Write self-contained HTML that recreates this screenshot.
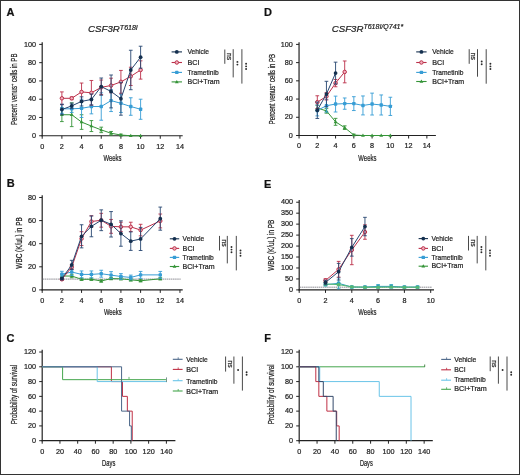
<!DOCTYPE html><html><head><meta charset="utf-8"><style>html,body{margin:0;padding:0;background:#fff;}svg{display:block;will-change:transform;}text{font-family:"Liberation Sans", sans-serif;stroke:#222;stroke-width:0.22px;}</style></head><body>
<svg width="520" height="475" viewBox="0 0 520 475" font-family='"Liberation Sans", sans-serif' fill="#222">
<rect x="0" y="0" width="520" height="475" fill="#fff"/>
<text x="6.6" y="16.3" font-size="11" font-weight="bold" fill="#111">A</text>
<text x="6.8" y="187.2" font-size="11" font-weight="bold" fill="#111">B</text>
<text x="6.6" y="342.3" font-size="11" font-weight="bold" fill="#111">C</text>
<text x="263.9" y="16.3" font-size="11" font-weight="bold" fill="#111">D</text>
<text x="264.1" y="187.5" font-size="11" font-weight="bold" fill="#111">E</text>
<text x="264.2" y="342.3" font-size="11" font-weight="bold" fill="#111">F</text>
<text x="88.1" y="32.2" font-size="9.7" font-style="italic">CSF3R<tspan font-size="7" dy="-2.3">T618I</tspan></text>
<text x="331.7" y="32.0" font-size="9.7" font-style="italic">CSF3R<tspan font-size="7" dy="-3.2">T618I/Q741*</tspan></text>
<line x1="42.2" y1="136.35" x2="42.2" y2="42.2" stroke="#222222" stroke-width="1.2"/>
<line x1="41.6" y1="135.75" x2="182.7" y2="135.75" stroke="#222222" stroke-width="1.2"/>
<line x1="39.2" y1="135.75" x2="42.2" y2="135.75" stroke="#222222" stroke-width="1"/>
<text transform="translate(36 137.95) scale(0.93 1)" font-size="7.8" text-anchor="end">0</text>
<line x1="39.2" y1="117.48" x2="42.2" y2="117.48" stroke="#222222" stroke-width="1"/>
<text transform="translate(36 119.68) scale(0.93 1)" font-size="7.8" text-anchor="end">20</text>
<line x1="39.2" y1="99.21" x2="42.2" y2="99.21" stroke="#222222" stroke-width="1"/>
<text transform="translate(36 101.41) scale(0.93 1)" font-size="7.8" text-anchor="end">40</text>
<line x1="39.2" y1="80.94" x2="42.2" y2="80.94" stroke="#222222" stroke-width="1"/>
<text transform="translate(36 83.14) scale(0.93 1)" font-size="7.8" text-anchor="end">60</text>
<line x1="39.2" y1="62.67" x2="42.2" y2="62.67" stroke="#222222" stroke-width="1"/>
<text transform="translate(36 64.87) scale(0.93 1)" font-size="7.8" text-anchor="end">80</text>
<line x1="39.2" y1="44.4" x2="42.2" y2="44.4" stroke="#222222" stroke-width="1"/>
<text transform="translate(36 46.6) scale(0.93 1)" font-size="7.8" text-anchor="end">100</text>
<line x1="42.2" y1="135.75" x2="42.2" y2="138.75" stroke="#222222" stroke-width="1"/>
<text transform="translate(42.2 148.65) scale(0.93 1)" font-size="7.8" text-anchor="middle">0</text>
<line x1="61.88" y1="135.75" x2="61.88" y2="138.75" stroke="#222222" stroke-width="1"/>
<text transform="translate(61.88 148.65) scale(0.93 1)" font-size="7.8" text-anchor="middle">2</text>
<line x1="81.56" y1="135.75" x2="81.56" y2="138.75" stroke="#222222" stroke-width="1"/>
<text transform="translate(81.56 148.65) scale(0.93 1)" font-size="7.8" text-anchor="middle">4</text>
<line x1="101.24" y1="135.75" x2="101.24" y2="138.75" stroke="#222222" stroke-width="1"/>
<text transform="translate(101.24 148.65) scale(0.93 1)" font-size="7.8" text-anchor="middle">6</text>
<line x1="120.92" y1="135.75" x2="120.92" y2="138.75" stroke="#222222" stroke-width="1"/>
<text transform="translate(120.92 148.65) scale(0.93 1)" font-size="7.8" text-anchor="middle">8</text>
<line x1="140.6" y1="135.75" x2="140.6" y2="138.75" stroke="#222222" stroke-width="1"/>
<text transform="translate(140.6 148.65) scale(0.93 1)" font-size="7.8" text-anchor="middle">10</text>
<line x1="160.28" y1="135.75" x2="160.28" y2="138.75" stroke="#222222" stroke-width="1"/>
<text transform="translate(160.28 148.65) scale(0.93 1)" font-size="7.8" text-anchor="middle">12</text>
<line x1="179.96" y1="135.75" x2="179.96" y2="138.75" stroke="#222222" stroke-width="1"/>
<text transform="translate(179.96 148.65) scale(0.93 1)" font-size="7.8" text-anchor="middle">14</text>
<text x="112.4" y="160.8" font-size="8.6" text-anchor="middle" textLength="18" lengthAdjust="spacingAndGlyphs">Weeks</text>
<text x="16.9" y="89.25" font-size="8.6" text-anchor="middle" transform="rotate(-90 16.9 89.25)" textLength="71.5" lengthAdjust="spacingAndGlyphs">Percent venus<tspan font-size="5.5" dy="-3">+</tspan><tspan dy="3"> cells in PB</tspan></text>
<line x1="61.88" y1="107.89" x2="61.88" y2="121.59" stroke="#359438" stroke-width="0.9"/>
<line x1="60.03" y1="107.89" x2="63.73" y2="107.89" stroke="#359438" stroke-width="0.9"/>
<line x1="60.03" y1="121.59" x2="63.73" y2="121.59" stroke="#359438" stroke-width="0.9"/>
<line x1="71.72" y1="102.86" x2="71.72" y2="126.61" stroke="#359438" stroke-width="0.9"/>
<line x1="69.87" y1="102.86" x2="73.57" y2="102.86" stroke="#359438" stroke-width="0.9"/>
<line x1="69.87" y1="126.61" x2="73.57" y2="126.61" stroke="#359438" stroke-width="0.9"/>
<line x1="81.56" y1="114.74" x2="81.56" y2="129.36" stroke="#359438" stroke-width="0.9"/>
<line x1="79.71" y1="114.74" x2="83.41" y2="114.74" stroke="#359438" stroke-width="0.9"/>
<line x1="79.71" y1="129.36" x2="83.41" y2="129.36" stroke="#359438" stroke-width="0.9"/>
<line x1="91.4" y1="120.59" x2="91.4" y2="131.55" stroke="#359438" stroke-width="0.9"/>
<line x1="89.55" y1="120.59" x2="93.25" y2="120.59" stroke="#359438" stroke-width="0.9"/>
<line x1="89.55" y1="131.55" x2="93.25" y2="131.55" stroke="#359438" stroke-width="0.9"/>
<line x1="101.24" y1="127.16" x2="101.24" y2="132.64" stroke="#359438" stroke-width="0.9"/>
<line x1="99.39" y1="127.16" x2="103.09" y2="127.16" stroke="#359438" stroke-width="0.9"/>
<line x1="99.39" y1="132.64" x2="103.09" y2="132.64" stroke="#359438" stroke-width="0.9"/>
<line x1="111.08" y1="131.46" x2="111.08" y2="135.11" stroke="#359438" stroke-width="0.9"/>
<line x1="109.23" y1="131.46" x2="112.93" y2="131.46" stroke="#359438" stroke-width="0.9"/>
<line x1="109.23" y1="135.11" x2="112.93" y2="135.11" stroke="#359438" stroke-width="0.9"/>
<line x1="120.92" y1="134.11" x2="120.92" y2="135.75" stroke="#359438" stroke-width="0.9"/>
<line x1="119.07" y1="134.11" x2="122.77" y2="134.11" stroke="#359438" stroke-width="0.9"/>
<line x1="119.07" y1="135.75" x2="122.77" y2="135.75" stroke="#359438" stroke-width="0.9"/>
<path d="M61.88 114.74 L71.72 114.74 L81.56 122.05 L91.4 126.07 L101.24 129.9 L111.08 133.28 L120.92 135.02 L130.76 135.75 L140.6 135.75" fill="none" stroke="#359438" stroke-width="1.0"/>
<path d="M61.88 112.74L63.78 116.04L59.98 116.04Z" fill="#359438"/>
<path d="M71.72 112.74L73.62 116.04L69.82 116.04Z" fill="#359438"/>
<path d="M81.56 120.05L83.46 123.35L79.66 123.35Z" fill="#359438"/>
<path d="M91.4 124.07L93.3 127.37L89.5 127.37Z" fill="#359438"/>
<path d="M101.24 127.9L103.14 131.2L99.34 131.2Z" fill="#359438"/>
<path d="M111.08 131.28L112.98 134.58L109.18 134.58Z" fill="#359438"/>
<path d="M120.92 133.02L122.82 136.32L119.02 136.32Z" fill="#359438"/>
<path d="M130.76 133.75L132.66 137.05L128.86 137.05Z" fill="#359438"/>
<path d="M140.6 133.75L142.5 137.05L138.7 137.05Z" fill="#359438"/>
<line x1="61.88" y1="104.23" x2="61.88" y2="113.37" stroke="#379dd5" stroke-width="0.9"/>
<line x1="60.03" y1="104.23" x2="63.73" y2="104.23" stroke="#379dd5" stroke-width="0.9"/>
<line x1="60.03" y1="113.37" x2="63.73" y2="113.37" stroke="#379dd5" stroke-width="0.9"/>
<line x1="71.72" y1="105.15" x2="71.72" y2="112.46" stroke="#379dd5" stroke-width="0.9"/>
<line x1="69.87" y1="105.15" x2="73.57" y2="105.15" stroke="#379dd5" stroke-width="0.9"/>
<line x1="69.87" y1="112.46" x2="73.57" y2="112.46" stroke="#379dd5" stroke-width="0.9"/>
<line x1="81.56" y1="99.21" x2="81.56" y2="117.48" stroke="#379dd5" stroke-width="0.9"/>
<line x1="79.71" y1="99.21" x2="83.41" y2="99.21" stroke="#379dd5" stroke-width="0.9"/>
<line x1="79.71" y1="117.48" x2="83.41" y2="117.48" stroke="#379dd5" stroke-width="0.9"/>
<line x1="91.4" y1="99.21" x2="91.4" y2="113.83" stroke="#379dd5" stroke-width="0.9"/>
<line x1="89.55" y1="99.21" x2="93.25" y2="99.21" stroke="#379dd5" stroke-width="0.9"/>
<line x1="89.55" y1="113.83" x2="93.25" y2="113.83" stroke="#379dd5" stroke-width="0.9"/>
<line x1="101.24" y1="92.82" x2="101.24" y2="120.22" stroke="#379dd5" stroke-width="0.9"/>
<line x1="99.39" y1="92.82" x2="103.09" y2="92.82" stroke="#379dd5" stroke-width="0.9"/>
<line x1="99.39" y1="120.22" x2="103.09" y2="120.22" stroke="#379dd5" stroke-width="0.9"/>
<line x1="111.08" y1="89.62" x2="111.08" y2="111.54" stroke="#379dd5" stroke-width="0.9"/>
<line x1="109.23" y1="89.62" x2="112.93" y2="89.62" stroke="#379dd5" stroke-width="0.9"/>
<line x1="109.23" y1="111.54" x2="112.93" y2="111.54" stroke="#379dd5" stroke-width="0.9"/>
<line x1="120.92" y1="94.19" x2="120.92" y2="112.46" stroke="#379dd5" stroke-width="0.9"/>
<line x1="119.07" y1="94.19" x2="122.77" y2="94.19" stroke="#379dd5" stroke-width="0.9"/>
<line x1="119.07" y1="112.46" x2="122.77" y2="112.46" stroke="#379dd5" stroke-width="0.9"/>
<line x1="130.76" y1="97.75" x2="130.76" y2="115.29" stroke="#379dd5" stroke-width="0.9"/>
<line x1="128.91" y1="97.75" x2="132.61" y2="97.75" stroke="#379dd5" stroke-width="0.9"/>
<line x1="128.91" y1="115.29" x2="132.61" y2="115.29" stroke="#379dd5" stroke-width="0.9"/>
<line x1="140.6" y1="99.21" x2="140.6" y2="119.31" stroke="#379dd5" stroke-width="0.9"/>
<line x1="138.75" y1="99.21" x2="142.45" y2="99.21" stroke="#379dd5" stroke-width="0.9"/>
<line x1="138.75" y1="119.31" x2="142.45" y2="119.31" stroke="#379dd5" stroke-width="0.9"/>
<path d="M61.88 108.8 L71.72 108.8 L81.56 108.34 L91.4 106.52 L101.24 106.52 L111.08 100.58 L120.92 103.32 L130.76 106.52 L140.6 109.26" fill="none" stroke="#379dd5" stroke-width="1.0"/>
<rect x="60.18" y="107.1" width="3.4" height="3.4" rx="0.7" fill="#379dd5"/>
<rect x="70.02" y="107.1" width="3.4" height="3.4" rx="0.7" fill="#379dd5"/>
<rect x="79.86" y="106.64" width="3.4" height="3.4" rx="0.7" fill="#379dd5"/>
<rect x="89.7" y="104.82" width="3.4" height="3.4" rx="0.7" fill="#379dd5"/>
<rect x="99.54" y="104.82" width="3.4" height="3.4" rx="0.7" fill="#379dd5"/>
<rect x="109.38" y="98.88" width="3.4" height="3.4" rx="0.7" fill="#379dd5"/>
<rect x="119.22" y="101.62" width="3.4" height="3.4" rx="0.7" fill="#379dd5"/>
<rect x="129.06" y="104.82" width="3.4" height="3.4" rx="0.7" fill="#379dd5"/>
<rect x="138.9" y="107.56" width="3.4" height="3.4" rx="0.7" fill="#379dd5"/>
<line x1="61.88" y1="91.9" x2="61.88" y2="104.69" stroke="#bb304a" stroke-width="0.9"/>
<line x1="60.03" y1="91.9" x2="63.73" y2="91.9" stroke="#bb304a" stroke-width="0.9"/>
<line x1="60.03" y1="104.69" x2="63.73" y2="104.69" stroke="#bb304a" stroke-width="0.9"/>
<line x1="71.72" y1="96.93" x2="71.72" y2="99.67" stroke="#bb304a" stroke-width="0.9"/>
<line x1="69.87" y1="96.93" x2="73.57" y2="96.93" stroke="#bb304a" stroke-width="0.9"/>
<line x1="69.87" y1="99.67" x2="73.57" y2="99.67" stroke="#bb304a" stroke-width="0.9"/>
<line x1="81.56" y1="83.04" x2="81.56" y2="100.76" stroke="#bb304a" stroke-width="0.9"/>
<line x1="79.71" y1="83.04" x2="83.41" y2="83.04" stroke="#bb304a" stroke-width="0.9"/>
<line x1="79.71" y1="100.76" x2="83.41" y2="100.76" stroke="#bb304a" stroke-width="0.9"/>
<line x1="91.4" y1="80.48" x2="91.4" y2="105.15" stroke="#bb304a" stroke-width="0.9"/>
<line x1="89.55" y1="80.48" x2="93.25" y2="80.48" stroke="#bb304a" stroke-width="0.9"/>
<line x1="89.55" y1="105.15" x2="93.25" y2="105.15" stroke="#bb304a" stroke-width="0.9"/>
<line x1="101.24" y1="80.03" x2="101.24" y2="94.64" stroke="#bb304a" stroke-width="0.9"/>
<line x1="99.39" y1="80.03" x2="103.09" y2="80.03" stroke="#bb304a" stroke-width="0.9"/>
<line x1="99.39" y1="94.64" x2="103.09" y2="94.64" stroke="#bb304a" stroke-width="0.9"/>
<line x1="111.08" y1="78.2" x2="111.08" y2="92.82" stroke="#bb304a" stroke-width="0.9"/>
<line x1="109.23" y1="78.2" x2="112.93" y2="78.2" stroke="#bb304a" stroke-width="0.9"/>
<line x1="109.23" y1="92.82" x2="112.93" y2="92.82" stroke="#bb304a" stroke-width="0.9"/>
<line x1="120.92" y1="70.43" x2="120.92" y2="93.27" stroke="#bb304a" stroke-width="0.9"/>
<line x1="119.07" y1="70.43" x2="122.77" y2="70.43" stroke="#bb304a" stroke-width="0.9"/>
<line x1="119.07" y1="93.27" x2="122.77" y2="93.27" stroke="#bb304a" stroke-width="0.9"/>
<line x1="130.76" y1="67.24" x2="130.76" y2="85.51" stroke="#bb304a" stroke-width="0.9"/>
<line x1="128.91" y1="67.24" x2="132.61" y2="67.24" stroke="#bb304a" stroke-width="0.9"/>
<line x1="128.91" y1="85.51" x2="132.61" y2="85.51" stroke="#bb304a" stroke-width="0.9"/>
<line x1="140.6" y1="60.84" x2="140.6" y2="79.11" stroke="#bb304a" stroke-width="0.9"/>
<line x1="138.75" y1="60.84" x2="142.45" y2="60.84" stroke="#bb304a" stroke-width="0.9"/>
<line x1="138.75" y1="79.11" x2="142.45" y2="79.11" stroke="#bb304a" stroke-width="0.9"/>
<path d="M61.88 98.3 L71.72 98.3 L81.56 91.9 L91.4 92.82 L101.24 87.33 L111.08 85.51 L120.92 81.85 L130.76 76.37 L140.6 69.98" fill="none" stroke="#bb304a" stroke-width="1.0"/>
<circle cx="61.88" cy="98.3" r="1.75" fill="#f2b3c0" stroke="#bb304a" stroke-width="1"/>
<circle cx="71.72" cy="98.3" r="1.75" fill="#f2b3c0" stroke="#bb304a" stroke-width="1"/>
<circle cx="81.56" cy="91.9" r="1.75" fill="#f2b3c0" stroke="#bb304a" stroke-width="1"/>
<circle cx="91.4" cy="92.82" r="1.75" fill="#f2b3c0" stroke="#bb304a" stroke-width="1"/>
<circle cx="101.24" cy="87.33" r="1.75" fill="#f2b3c0" stroke="#bb304a" stroke-width="1"/>
<circle cx="111.08" cy="85.51" r="1.75" fill="#f2b3c0" stroke="#bb304a" stroke-width="1"/>
<circle cx="120.92" cy="81.85" r="1.75" fill="#f2b3c0" stroke="#bb304a" stroke-width="1"/>
<circle cx="130.76" cy="76.37" r="1.75" fill="#f2b3c0" stroke="#bb304a" stroke-width="1"/>
<circle cx="140.6" cy="69.98" r="1.75" fill="#f2b3c0" stroke="#bb304a" stroke-width="1"/>
<line x1="61.88" y1="104.33" x2="61.88" y2="114.74" stroke="#274670" stroke-width="0.9"/>
<line x1="60.03" y1="104.33" x2="63.73" y2="104.33" stroke="#274670" stroke-width="0.9"/>
<line x1="60.03" y1="114.74" x2="63.73" y2="114.74" stroke="#274670" stroke-width="0.9"/>
<line x1="71.72" y1="103.14" x2="71.72" y2="108.62" stroke="#274670" stroke-width="0.9"/>
<line x1="69.87" y1="103.14" x2="73.57" y2="103.14" stroke="#274670" stroke-width="0.9"/>
<line x1="69.87" y1="108.62" x2="73.57" y2="108.62" stroke="#274670" stroke-width="0.9"/>
<line x1="81.56" y1="96.83" x2="81.56" y2="105.97" stroke="#274670" stroke-width="0.9"/>
<line x1="79.71" y1="96.83" x2="83.41" y2="96.83" stroke="#274670" stroke-width="0.9"/>
<line x1="79.71" y1="105.97" x2="83.41" y2="105.97" stroke="#274670" stroke-width="0.9"/>
<line x1="91.4" y1="94" x2="91.4" y2="104.97" stroke="#274670" stroke-width="0.9"/>
<line x1="89.55" y1="94" x2="93.25" y2="94" stroke="#274670" stroke-width="0.9"/>
<line x1="89.55" y1="104.97" x2="93.25" y2="104.97" stroke="#274670" stroke-width="0.9"/>
<line x1="101.24" y1="78.02" x2="101.24" y2="95.19" stroke="#274670" stroke-width="0.9"/>
<line x1="99.39" y1="78.02" x2="103.09" y2="78.02" stroke="#274670" stroke-width="0.9"/>
<line x1="99.39" y1="95.19" x2="103.09" y2="95.19" stroke="#274670" stroke-width="0.9"/>
<line x1="111.08" y1="75" x2="111.08" y2="107.89" stroke="#274670" stroke-width="0.9"/>
<line x1="109.23" y1="75" x2="112.93" y2="75" stroke="#274670" stroke-width="0.9"/>
<line x1="109.23" y1="107.89" x2="112.93" y2="107.89" stroke="#274670" stroke-width="0.9"/>
<line x1="120.92" y1="82.31" x2="120.92" y2="115.2" stroke="#274670" stroke-width="0.9"/>
<line x1="119.07" y1="82.31" x2="122.77" y2="82.31" stroke="#274670" stroke-width="0.9"/>
<line x1="119.07" y1="115.2" x2="122.77" y2="115.2" stroke="#274670" stroke-width="0.9"/>
<line x1="130.76" y1="50.25" x2="130.76" y2="89.71" stroke="#274670" stroke-width="0.9"/>
<line x1="128.91" y1="50.25" x2="132.61" y2="50.25" stroke="#274670" stroke-width="0.9"/>
<line x1="128.91" y1="89.71" x2="132.61" y2="89.71" stroke="#274670" stroke-width="0.9"/>
<line x1="140.6" y1="46.23" x2="140.6" y2="68.15" stroke="#274670" stroke-width="0.9"/>
<line x1="138.75" y1="46.23" x2="142.45" y2="46.23" stroke="#274670" stroke-width="0.9"/>
<line x1="138.75" y1="68.15" x2="142.45" y2="68.15" stroke="#274670" stroke-width="0.9"/>
<path d="M61.88 109.53 L71.72 105.88 L81.56 101.4 L91.4 99.48 L101.24 86.6 L111.08 91.45 L120.92 98.75 L130.76 69.98 L140.6 57.19" fill="none" stroke="#274670" stroke-width="1.0"/>
<circle cx="61.88" cy="109.53" r="1.9" fill="#15304f"/>
<circle cx="71.72" cy="105.88" r="1.9" fill="#15304f"/>
<circle cx="81.56" cy="101.4" r="1.9" fill="#15304f"/>
<circle cx="91.4" cy="99.48" r="1.9" fill="#15304f"/>
<circle cx="101.24" cy="86.6" r="1.9" fill="#15304f"/>
<circle cx="111.08" cy="91.45" r="1.9" fill="#15304f"/>
<circle cx="120.92" cy="98.75" r="1.9" fill="#15304f"/>
<circle cx="130.76" cy="69.98" r="1.9" fill="#15304f"/>
<circle cx="140.6" cy="57.19" r="1.9" fill="#15304f"/>
<line x1="171.6" y1="51.9" x2="182" y2="51.9" stroke="#15304f" stroke-width="1.1"/>
<circle cx="176.8" cy="51.9" r="1.9" fill="#15304f"/>
<text x="187.5" y="54" font-size="8" textLength="21.6" lengthAdjust="spacingAndGlyphs">Vehicle</text>
<line x1="171.6" y1="62.5" x2="182" y2="62.5" stroke="#bb304a" stroke-width="1.1"/>
<circle cx="176.8" cy="62.5" r="1.75" fill="#f2b3c0" stroke="#bb304a" stroke-width="1"/>
<text x="187.5" y="64.6" font-size="8" textLength="12" lengthAdjust="spacingAndGlyphs">BCI</text>
<line x1="171.6" y1="72.4" x2="182" y2="72.4" stroke="#379dd5" stroke-width="1.1"/>
<rect x="175.1" y="70.7" width="3.4" height="3.4" rx="0.7" fill="#379dd5"/>
<text x="187.5" y="74.5" font-size="8" textLength="31.2" lengthAdjust="spacingAndGlyphs">Trametinib</text>
<line x1="171.6" y1="81.9" x2="182" y2="81.9" stroke="#359438" stroke-width="1.1"/>
<path d="M176.8 79.9L178.7 83.2L174.9 83.2Z" fill="#359438"/>
<text x="187.5" y="84" font-size="8" textLength="32" lengthAdjust="spacingAndGlyphs">BCI+Tram</text>
<line x1="224.8" y1="49.5" x2="224.8" y2="63.8" stroke="#4a4a4a" stroke-width="1.0"/>
<text x="226.8" y="56.6" font-size="6.8" text-anchor="middle" fill="#333" transform="rotate(90 226.8 56.6)">ns</text>
<line x1="233.2" y1="49.2" x2="233.2" y2="77.4" stroke="#4a4a4a" stroke-width="1.0"/>
<circle cx="237.4" cy="61.92" r="0.95" fill="#2a2a2a"/>
<circle cx="237.4" cy="64.58" r="0.95" fill="#2a2a2a"/>
<line x1="241.9" y1="49.2" x2="241.9" y2="83.6" stroke="#4a4a4a" stroke-width="1.0"/>
<circle cx="246.1" cy="63.7" r="0.95" fill="#2a2a2a"/>
<circle cx="246.1" cy="66.35" r="0.95" fill="#2a2a2a"/>
<circle cx="246.1" cy="69" r="0.95" fill="#2a2a2a"/>
<line x1="42.2" y1="290.5" x2="42.2" y2="195.3" stroke="#222222" stroke-width="1.2"/>
<line x1="41.6" y1="289.9" x2="182.7" y2="289.9" stroke="#222222" stroke-width="1.2"/>
<line x1="39.2" y1="289.9" x2="42.2" y2="289.9" stroke="#222222" stroke-width="1"/>
<text transform="translate(36 292.1) scale(0.93 1)" font-size="7.8" text-anchor="end">0</text>
<line x1="39.2" y1="266.8" x2="42.2" y2="266.8" stroke="#222222" stroke-width="1"/>
<text transform="translate(36 269) scale(0.93 1)" font-size="7.8" text-anchor="end">20</text>
<line x1="39.2" y1="243.7" x2="42.2" y2="243.7" stroke="#222222" stroke-width="1"/>
<text transform="translate(36 245.9) scale(0.93 1)" font-size="7.8" text-anchor="end">40</text>
<line x1="39.2" y1="220.6" x2="42.2" y2="220.6" stroke="#222222" stroke-width="1"/>
<text transform="translate(36 222.8) scale(0.93 1)" font-size="7.8" text-anchor="end">60</text>
<line x1="39.2" y1="197.5" x2="42.2" y2="197.5" stroke="#222222" stroke-width="1"/>
<text transform="translate(36 199.7) scale(0.93 1)" font-size="7.8" text-anchor="end">80</text>
<line x1="42.2" y1="289.9" x2="42.2" y2="292.9" stroke="#222222" stroke-width="1"/>
<text transform="translate(42.2 302.8) scale(0.93 1)" font-size="7.8" text-anchor="middle">0</text>
<line x1="61.88" y1="289.9" x2="61.88" y2="292.9" stroke="#222222" stroke-width="1"/>
<text transform="translate(61.88 302.8) scale(0.93 1)" font-size="7.8" text-anchor="middle">2</text>
<line x1="81.56" y1="289.9" x2="81.56" y2="292.9" stroke="#222222" stroke-width="1"/>
<text transform="translate(81.56 302.8) scale(0.93 1)" font-size="7.8" text-anchor="middle">4</text>
<line x1="101.24" y1="289.9" x2="101.24" y2="292.9" stroke="#222222" stroke-width="1"/>
<text transform="translate(101.24 302.8) scale(0.93 1)" font-size="7.8" text-anchor="middle">6</text>
<line x1="120.92" y1="289.9" x2="120.92" y2="292.9" stroke="#222222" stroke-width="1"/>
<text transform="translate(120.92 302.8) scale(0.93 1)" font-size="7.8" text-anchor="middle">8</text>
<line x1="140.6" y1="289.9" x2="140.6" y2="292.9" stroke="#222222" stroke-width="1"/>
<text transform="translate(140.6 302.8) scale(0.93 1)" font-size="7.8" text-anchor="middle">10</text>
<line x1="160.28" y1="289.9" x2="160.28" y2="292.9" stroke="#222222" stroke-width="1"/>
<text transform="translate(160.28 302.8) scale(0.93 1)" font-size="7.8" text-anchor="middle">12</text>
<line x1="179.96" y1="289.9" x2="179.96" y2="292.9" stroke="#222222" stroke-width="1"/>
<text transform="translate(179.96 302.8) scale(0.93 1)" font-size="7.8" text-anchor="middle">14</text>
<line x1="42.8" y1="279.1" x2="180.7" y2="279.1" stroke="#8f8f96" stroke-width="1.0" stroke-dasharray="1.6 0.5"/>
<text x="112.8" y="314.7" font-size="8.6" text-anchor="middle" textLength="17.8" lengthAdjust="spacingAndGlyphs">Weeks</text>
<text x="21.7" y="242.95" font-size="8.6" text-anchor="middle" textLength="51.5" lengthAdjust="spacingAndGlyphs" transform="rotate(-90 21.7 242.95)">WBC (K/uL) in PB</text>
<line x1="61.88" y1="274.88" x2="61.88" y2="277.19" stroke="#359438" stroke-width="0.9"/>
<line x1="60.03" y1="274.88" x2="63.73" y2="274.88" stroke="#359438" stroke-width="0.9"/>
<line x1="60.03" y1="277.19" x2="63.73" y2="277.19" stroke="#359438" stroke-width="0.9"/>
<line x1="71.72" y1="274.31" x2="71.72" y2="277.77" stroke="#359438" stroke-width="0.9"/>
<line x1="69.87" y1="274.31" x2="73.57" y2="274.31" stroke="#359438" stroke-width="0.9"/>
<line x1="69.87" y1="277.77" x2="73.57" y2="277.77" stroke="#359438" stroke-width="0.9"/>
<line x1="81.56" y1="278.12" x2="81.56" y2="280.43" stroke="#359438" stroke-width="0.9"/>
<line x1="79.71" y1="278.12" x2="83.41" y2="278.12" stroke="#359438" stroke-width="0.9"/>
<line x1="79.71" y1="280.43" x2="83.41" y2="280.43" stroke="#359438" stroke-width="0.9"/>
<line x1="91.4" y1="278.12" x2="91.4" y2="280.43" stroke="#359438" stroke-width="0.9"/>
<line x1="89.55" y1="278.12" x2="93.25" y2="278.12" stroke="#359438" stroke-width="0.9"/>
<line x1="89.55" y1="280.43" x2="93.25" y2="280.43" stroke="#359438" stroke-width="0.9"/>
<line x1="101.24" y1="279.85" x2="101.24" y2="282.16" stroke="#359438" stroke-width="0.9"/>
<line x1="99.39" y1="279.85" x2="103.09" y2="279.85" stroke="#359438" stroke-width="0.9"/>
<line x1="99.39" y1="282.16" x2="103.09" y2="282.16" stroke="#359438" stroke-width="0.9"/>
<line x1="111.08" y1="277.43" x2="111.08" y2="279.74" stroke="#359438" stroke-width="0.9"/>
<line x1="109.23" y1="277.43" x2="112.93" y2="277.43" stroke="#359438" stroke-width="0.9"/>
<line x1="109.23" y1="279.74" x2="112.93" y2="279.74" stroke="#359438" stroke-width="0.9"/>
<line x1="120.92" y1="277.66" x2="120.92" y2="279.97" stroke="#359438" stroke-width="0.9"/>
<line x1="119.07" y1="277.66" x2="122.77" y2="277.66" stroke="#359438" stroke-width="0.9"/>
<line x1="119.07" y1="279.97" x2="122.77" y2="279.97" stroke="#359438" stroke-width="0.9"/>
<line x1="130.76" y1="278.7" x2="130.76" y2="281.01" stroke="#359438" stroke-width="0.9"/>
<line x1="128.91" y1="278.7" x2="132.61" y2="278.7" stroke="#359438" stroke-width="0.9"/>
<line x1="128.91" y1="281.01" x2="132.61" y2="281.01" stroke="#359438" stroke-width="0.9"/>
<line x1="140.6" y1="279.62" x2="140.6" y2="281.93" stroke="#359438" stroke-width="0.9"/>
<line x1="138.75" y1="279.62" x2="142.45" y2="279.62" stroke="#359438" stroke-width="0.9"/>
<line x1="138.75" y1="281.93" x2="142.45" y2="281.93" stroke="#359438" stroke-width="0.9"/>
<line x1="160.28" y1="277.66" x2="160.28" y2="279.97" stroke="#359438" stroke-width="0.9"/>
<line x1="158.43" y1="277.66" x2="162.13" y2="277.66" stroke="#359438" stroke-width="0.9"/>
<line x1="158.43" y1="279.97" x2="162.13" y2="279.97" stroke="#359438" stroke-width="0.9"/>
<path d="M61.88 276.04 L71.72 276.04 L81.56 279.27 L91.4 279.27 L101.24 281.01 L111.08 278.58 L120.92 278.81 L130.76 279.85 L140.6 280.78 L160.28 278.81" fill="none" stroke="#359438" stroke-width="1.0"/>
<path d="M61.88 274.04L63.78 277.34L59.98 277.34Z" fill="#359438"/>
<path d="M71.72 274.04L73.62 277.34L69.82 277.34Z" fill="#359438"/>
<path d="M81.56 277.27L83.46 280.57L79.66 280.57Z" fill="#359438"/>
<path d="M91.4 277.27L93.3 280.57L89.5 280.57Z" fill="#359438"/>
<path d="M101.24 279.01L103.14 282.31L99.34 282.31Z" fill="#359438"/>
<path d="M111.08 276.58L112.98 279.88L109.18 279.88Z" fill="#359438"/>
<path d="M120.92 276.81L122.82 280.11L119.02 280.11Z" fill="#359438"/>
<path d="M130.76 277.85L132.66 281.15L128.86 281.15Z" fill="#359438"/>
<path d="M140.6 278.78L142.5 282.08L138.7 282.08Z" fill="#359438"/>
<path d="M160.28 276.81L162.18 280.11L158.38 280.11Z" fill="#359438"/>
<line x1="61.88" y1="271.3" x2="61.88" y2="277.08" stroke="#379dd5" stroke-width="0.9"/>
<line x1="60.03" y1="271.3" x2="63.73" y2="271.3" stroke="#379dd5" stroke-width="0.9"/>
<line x1="60.03" y1="277.08" x2="63.73" y2="277.08" stroke="#379dd5" stroke-width="0.9"/>
<line x1="71.72" y1="268.53" x2="71.72" y2="275.46" stroke="#379dd5" stroke-width="0.9"/>
<line x1="69.87" y1="268.53" x2="73.57" y2="268.53" stroke="#379dd5" stroke-width="0.9"/>
<line x1="69.87" y1="275.46" x2="73.57" y2="275.46" stroke="#379dd5" stroke-width="0.9"/>
<line x1="81.56" y1="270.96" x2="81.56" y2="277.89" stroke="#379dd5" stroke-width="0.9"/>
<line x1="79.71" y1="270.96" x2="83.41" y2="270.96" stroke="#379dd5" stroke-width="0.9"/>
<line x1="79.71" y1="277.89" x2="83.41" y2="277.89" stroke="#379dd5" stroke-width="0.9"/>
<line x1="91.4" y1="270.96" x2="91.4" y2="277.89" stroke="#379dd5" stroke-width="0.9"/>
<line x1="89.55" y1="270.96" x2="93.25" y2="270.96" stroke="#379dd5" stroke-width="0.9"/>
<line x1="89.55" y1="277.89" x2="93.25" y2="277.89" stroke="#379dd5" stroke-width="0.9"/>
<line x1="101.24" y1="270.26" x2="101.24" y2="277.19" stroke="#379dd5" stroke-width="0.9"/>
<line x1="99.39" y1="270.26" x2="103.09" y2="270.26" stroke="#379dd5" stroke-width="0.9"/>
<line x1="99.39" y1="277.19" x2="103.09" y2="277.19" stroke="#379dd5" stroke-width="0.9"/>
<line x1="111.08" y1="271.65" x2="111.08" y2="278.58" stroke="#379dd5" stroke-width="0.9"/>
<line x1="109.23" y1="271.65" x2="112.93" y2="271.65" stroke="#379dd5" stroke-width="0.9"/>
<line x1="109.23" y1="278.58" x2="112.93" y2="278.58" stroke="#379dd5" stroke-width="0.9"/>
<line x1="120.92" y1="273.61" x2="120.92" y2="279.39" stroke="#379dd5" stroke-width="0.9"/>
<line x1="119.07" y1="273.61" x2="122.77" y2="273.61" stroke="#379dd5" stroke-width="0.9"/>
<line x1="119.07" y1="279.39" x2="122.77" y2="279.39" stroke="#379dd5" stroke-width="0.9"/>
<line x1="130.76" y1="275.12" x2="130.76" y2="279.74" stroke="#379dd5" stroke-width="0.9"/>
<line x1="128.91" y1="275.12" x2="132.61" y2="275.12" stroke="#379dd5" stroke-width="0.9"/>
<line x1="128.91" y1="279.74" x2="132.61" y2="279.74" stroke="#379dd5" stroke-width="0.9"/>
<line x1="140.6" y1="271.42" x2="140.6" y2="278.35" stroke="#379dd5" stroke-width="0.9"/>
<line x1="138.75" y1="271.42" x2="142.45" y2="271.42" stroke="#379dd5" stroke-width="0.9"/>
<line x1="138.75" y1="278.35" x2="142.45" y2="278.35" stroke="#379dd5" stroke-width="0.9"/>
<line x1="160.28" y1="271.42" x2="160.28" y2="278.35" stroke="#379dd5" stroke-width="0.9"/>
<line x1="158.43" y1="271.42" x2="162.13" y2="271.42" stroke="#379dd5" stroke-width="0.9"/>
<line x1="158.43" y1="278.35" x2="162.13" y2="278.35" stroke="#379dd5" stroke-width="0.9"/>
<path d="M61.88 274.19 L71.72 272 L81.56 274.42 L91.4 274.42 L101.24 273.73 L111.08 275.12 L120.92 276.5 L130.76 277.43 L140.6 274.88 L160.28 274.88" fill="none" stroke="#379dd5" stroke-width="1.0"/>
<rect x="60.18" y="272.49" width="3.4" height="3.4" rx="0.7" fill="#379dd5"/>
<rect x="70.02" y="270.3" width="3.4" height="3.4" rx="0.7" fill="#379dd5"/>
<rect x="79.86" y="272.72" width="3.4" height="3.4" rx="0.7" fill="#379dd5"/>
<rect x="89.7" y="272.72" width="3.4" height="3.4" rx="0.7" fill="#379dd5"/>
<rect x="99.54" y="272.03" width="3.4" height="3.4" rx="0.7" fill="#379dd5"/>
<rect x="109.38" y="273.42" width="3.4" height="3.4" rx="0.7" fill="#379dd5"/>
<rect x="119.22" y="274.8" width="3.4" height="3.4" rx="0.7" fill="#379dd5"/>
<rect x="129.06" y="275.73" width="3.4" height="3.4" rx="0.7" fill="#379dd5"/>
<rect x="138.9" y="273.19" width="3.4" height="3.4" rx="0.7" fill="#379dd5"/>
<rect x="158.58" y="273.19" width="3.4" height="3.4" rx="0.7" fill="#379dd5"/>
<line x1="61.88" y1="278.12" x2="61.88" y2="280.43" stroke="#bb304a" stroke-width="0.9"/>
<line x1="60.03" y1="278.12" x2="63.73" y2="278.12" stroke="#bb304a" stroke-width="0.9"/>
<line x1="60.03" y1="280.43" x2="63.73" y2="280.43" stroke="#bb304a" stroke-width="0.9"/>
<line x1="71.72" y1="264.84" x2="71.72" y2="269.46" stroke="#bb304a" stroke-width="0.9"/>
<line x1="69.87" y1="264.84" x2="73.57" y2="264.84" stroke="#bb304a" stroke-width="0.9"/>
<line x1="69.87" y1="269.46" x2="73.57" y2="269.46" stroke="#bb304a" stroke-width="0.9"/>
<line x1="81.56" y1="231.69" x2="81.56" y2="245.55" stroke="#bb304a" stroke-width="0.9"/>
<line x1="79.71" y1="231.69" x2="83.41" y2="231.69" stroke="#bb304a" stroke-width="0.9"/>
<line x1="79.71" y1="245.55" x2="83.41" y2="245.55" stroke="#bb304a" stroke-width="0.9"/>
<line x1="91.4" y1="215.75" x2="91.4" y2="227.3" stroke="#bb304a" stroke-width="0.9"/>
<line x1="89.55" y1="215.75" x2="93.25" y2="215.75" stroke="#bb304a" stroke-width="0.9"/>
<line x1="89.55" y1="227.3" x2="93.25" y2="227.3" stroke="#bb304a" stroke-width="0.9"/>
<line x1="101.24" y1="213.32" x2="101.24" y2="227.18" stroke="#bb304a" stroke-width="0.9"/>
<line x1="99.39" y1="213.32" x2="103.09" y2="213.32" stroke="#bb304a" stroke-width="0.9"/>
<line x1="99.39" y1="227.18" x2="103.09" y2="227.18" stroke="#bb304a" stroke-width="0.9"/>
<line x1="111.08" y1="219.44" x2="111.08" y2="233.3" stroke="#bb304a" stroke-width="0.9"/>
<line x1="109.23" y1="219.44" x2="112.93" y2="219.44" stroke="#bb304a" stroke-width="0.9"/>
<line x1="109.23" y1="233.3" x2="112.93" y2="233.3" stroke="#bb304a" stroke-width="0.9"/>
<line x1="120.92" y1="222.22" x2="120.92" y2="231.46" stroke="#bb304a" stroke-width="0.9"/>
<line x1="119.07" y1="222.22" x2="122.77" y2="222.22" stroke="#bb304a" stroke-width="0.9"/>
<line x1="119.07" y1="231.46" x2="122.77" y2="231.46" stroke="#bb304a" stroke-width="0.9"/>
<line x1="130.76" y1="222.22" x2="130.76" y2="231.46" stroke="#bb304a" stroke-width="0.9"/>
<line x1="128.91" y1="222.22" x2="132.61" y2="222.22" stroke="#bb304a" stroke-width="0.9"/>
<line x1="128.91" y1="231.46" x2="132.61" y2="231.46" stroke="#bb304a" stroke-width="0.9"/>
<line x1="140.6" y1="224.3" x2="140.6" y2="235.85" stroke="#bb304a" stroke-width="0.9"/>
<line x1="138.75" y1="224.3" x2="142.45" y2="224.3" stroke="#bb304a" stroke-width="0.9"/>
<line x1="138.75" y1="235.85" x2="142.45" y2="235.85" stroke="#bb304a" stroke-width="0.9"/>
<line x1="160.28" y1="214.02" x2="160.28" y2="227.88" stroke="#bb304a" stroke-width="0.9"/>
<line x1="158.43" y1="214.02" x2="162.13" y2="214.02" stroke="#bb304a" stroke-width="0.9"/>
<line x1="158.43" y1="227.88" x2="162.13" y2="227.88" stroke="#bb304a" stroke-width="0.9"/>
<path d="M61.88 279.27 L71.72 267.15 L81.56 238.62 L91.4 221.52 L101.24 220.25 L111.08 226.37 L120.92 226.84 L130.76 226.84 L140.6 230.07 L160.28 220.95" fill="none" stroke="#bb304a" stroke-width="1.0"/>
<circle cx="61.88" cy="279.27" r="1.75" fill="#f2b3c0" stroke="#bb304a" stroke-width="1"/>
<circle cx="71.72" cy="267.15" r="1.75" fill="#f2b3c0" stroke="#bb304a" stroke-width="1"/>
<circle cx="81.56" cy="238.62" r="1.75" fill="#f2b3c0" stroke="#bb304a" stroke-width="1"/>
<circle cx="91.4" cy="221.52" r="1.75" fill="#f2b3c0" stroke="#bb304a" stroke-width="1"/>
<circle cx="101.24" cy="220.25" r="1.75" fill="#f2b3c0" stroke="#bb304a" stroke-width="1"/>
<circle cx="111.08" cy="226.37" r="1.75" fill="#f2b3c0" stroke="#bb304a" stroke-width="1"/>
<circle cx="120.92" cy="226.84" r="1.75" fill="#f2b3c0" stroke="#bb304a" stroke-width="1"/>
<circle cx="130.76" cy="226.84" r="1.75" fill="#f2b3c0" stroke="#bb304a" stroke-width="1"/>
<circle cx="140.6" cy="230.07" r="1.75" fill="#f2b3c0" stroke="#bb304a" stroke-width="1"/>
<circle cx="160.28" cy="220.95" r="1.75" fill="#f2b3c0" stroke="#bb304a" stroke-width="1"/>
<line x1="61.88" y1="277.43" x2="61.88" y2="279.74" stroke="#274670" stroke-width="0.9"/>
<line x1="60.03" y1="277.43" x2="63.73" y2="277.43" stroke="#274670" stroke-width="0.9"/>
<line x1="60.03" y1="279.74" x2="63.73" y2="279.74" stroke="#274670" stroke-width="0.9"/>
<line x1="71.72" y1="260.33" x2="71.72" y2="269.57" stroke="#274670" stroke-width="0.9"/>
<line x1="69.87" y1="260.33" x2="73.57" y2="260.33" stroke="#274670" stroke-width="0.9"/>
<line x1="69.87" y1="269.57" x2="73.57" y2="269.57" stroke="#274670" stroke-width="0.9"/>
<line x1="81.56" y1="224.76" x2="81.56" y2="247.86" stroke="#274670" stroke-width="0.9"/>
<line x1="79.71" y1="224.76" x2="83.41" y2="224.76" stroke="#274670" stroke-width="0.9"/>
<line x1="79.71" y1="247.86" x2="83.41" y2="247.86" stroke="#274670" stroke-width="0.9"/>
<line x1="91.4" y1="215.98" x2="91.4" y2="236.77" stroke="#274670" stroke-width="0.9"/>
<line x1="89.55" y1="215.98" x2="93.25" y2="215.98" stroke="#274670" stroke-width="0.9"/>
<line x1="89.55" y1="236.77" x2="93.25" y2="236.77" stroke="#274670" stroke-width="0.9"/>
<line x1="101.24" y1="209.86" x2="101.24" y2="230.65" stroke="#274670" stroke-width="0.9"/>
<line x1="99.39" y1="209.86" x2="103.09" y2="209.86" stroke="#274670" stroke-width="0.9"/>
<line x1="99.39" y1="230.65" x2="103.09" y2="230.65" stroke="#274670" stroke-width="0.9"/>
<line x1="111.08" y1="211.59" x2="111.08" y2="237" stroke="#274670" stroke-width="0.9"/>
<line x1="109.23" y1="211.59" x2="112.93" y2="211.59" stroke="#274670" stroke-width="0.9"/>
<line x1="109.23" y1="237" x2="112.93" y2="237" stroke="#274670" stroke-width="0.9"/>
<line x1="120.92" y1="220.83" x2="120.92" y2="246.24" stroke="#274670" stroke-width="0.9"/>
<line x1="119.07" y1="220.83" x2="122.77" y2="220.83" stroke="#274670" stroke-width="0.9"/>
<line x1="119.07" y1="246.24" x2="122.77" y2="246.24" stroke="#274670" stroke-width="0.9"/>
<line x1="130.76" y1="231.92" x2="130.76" y2="250.4" stroke="#274670" stroke-width="0.9"/>
<line x1="128.91" y1="231.92" x2="132.61" y2="231.92" stroke="#274670" stroke-width="0.9"/>
<line x1="128.91" y1="250.4" x2="132.61" y2="250.4" stroke="#274670" stroke-width="0.9"/>
<line x1="140.6" y1="227.41" x2="140.6" y2="250.51" stroke="#274670" stroke-width="0.9"/>
<line x1="138.75" y1="227.41" x2="142.45" y2="227.41" stroke="#274670" stroke-width="0.9"/>
<line x1="138.75" y1="250.51" x2="142.45" y2="250.51" stroke="#274670" stroke-width="0.9"/>
<line x1="160.28" y1="207.09" x2="160.28" y2="230.19" stroke="#274670" stroke-width="0.9"/>
<line x1="158.43" y1="207.09" x2="162.13" y2="207.09" stroke="#274670" stroke-width="0.9"/>
<line x1="158.43" y1="230.19" x2="162.13" y2="230.19" stroke="#274670" stroke-width="0.9"/>
<path d="M61.88 278.58 L71.72 264.95 L81.56 236.31 L91.4 226.37 L101.24 220.25 L111.08 224.3 L120.92 233.54 L130.76 241.16 L140.6 238.96 L160.28 218.64" fill="none" stroke="#274670" stroke-width="1.0"/>
<circle cx="61.88" cy="278.58" r="1.9" fill="#15304f"/>
<circle cx="71.72" cy="264.95" r="1.9" fill="#15304f"/>
<circle cx="81.56" cy="236.31" r="1.9" fill="#15304f"/>
<circle cx="91.4" cy="226.37" r="1.9" fill="#15304f"/>
<circle cx="101.24" cy="220.25" r="1.9" fill="#15304f"/>
<circle cx="111.08" cy="224.3" r="1.9" fill="#15304f"/>
<circle cx="120.92" cy="233.54" r="1.9" fill="#15304f"/>
<circle cx="130.76" cy="241.16" r="1.9" fill="#15304f"/>
<circle cx="140.6" cy="238.96" r="1.9" fill="#15304f"/>
<circle cx="160.28" cy="218.64" r="1.9" fill="#15304f"/>
<line x1="169.8" y1="238.8" x2="179.2" y2="238.8" stroke="#15304f" stroke-width="1.1"/>
<circle cx="174.5" cy="238.8" r="1.9" fill="#15304f"/>
<text x="182.6" y="240.9" font-size="8" textLength="21.6" lengthAdjust="spacingAndGlyphs">Vehicle</text>
<line x1="169.8" y1="248.4" x2="179.2" y2="248.4" stroke="#bb304a" stroke-width="1.1"/>
<circle cx="174.5" cy="248.4" r="1.75" fill="#f2b3c0" stroke="#bb304a" stroke-width="1"/>
<text x="182.6" y="250.5" font-size="8" textLength="12" lengthAdjust="spacingAndGlyphs">BCI</text>
<line x1="169.8" y1="257.4" x2="179.2" y2="257.4" stroke="#379dd5" stroke-width="1.1"/>
<rect x="172.8" y="255.7" width="3.4" height="3.4" rx="0.7" fill="#379dd5"/>
<text x="182.6" y="259.5" font-size="8" textLength="31.2" lengthAdjust="spacingAndGlyphs">Trametinib</text>
<line x1="169.8" y1="266.5" x2="179.2" y2="266.5" stroke="#359438" stroke-width="1.1"/>
<path d="M174.5 264.5L176.4 267.8L172.6 267.8Z" fill="#359438"/>
<text x="182.6" y="268.6" font-size="8" textLength="32" lengthAdjust="spacingAndGlyphs">BCI+Tram</text>
<line x1="219.5" y1="235.9" x2="219.5" y2="250.5" stroke="#4a4a4a" stroke-width="1.0"/>
<text x="221.5" y="243.15" font-size="6.8" text-anchor="middle" fill="#333" transform="rotate(90 221.5 243.15)">ns</text>
<line x1="227.3" y1="235.9" x2="227.3" y2="263.4" stroke="#4a4a4a" stroke-width="1.0"/>
<circle cx="231.5" cy="246.95" r="0.95" fill="#2a2a2a"/>
<circle cx="231.5" cy="249.6" r="0.95" fill="#2a2a2a"/>
<circle cx="231.5" cy="252.25" r="0.95" fill="#2a2a2a"/>
<line x1="236.3" y1="235.9" x2="236.3" y2="270.4" stroke="#4a4a4a" stroke-width="1.0"/>
<circle cx="240.5" cy="250.45" r="0.95" fill="#2a2a2a"/>
<circle cx="240.5" cy="253.1" r="0.95" fill="#2a2a2a"/>
<circle cx="240.5" cy="255.75" r="0.95" fill="#2a2a2a"/>
<line x1="42.2" y1="441.3" x2="42.2" y2="349.82" stroke="#222222" stroke-width="1.2"/>
<line x1="41.6" y1="440.7" x2="175.4" y2="440.7" stroke="#222222" stroke-width="1.2"/>
<line x1="39.2" y1="440.7" x2="42.2" y2="440.7" stroke="#222222" stroke-width="1"/>
<text transform="translate(36 442.9) scale(0.93 1)" font-size="7.8" text-anchor="end">0</text>
<line x1="39.2" y1="425.92" x2="42.2" y2="425.92" stroke="#222222" stroke-width="1"/>
<text transform="translate(36 428.12) scale(0.93 1)" font-size="7.8" text-anchor="end">20</text>
<line x1="39.2" y1="411.14" x2="42.2" y2="411.14" stroke="#222222" stroke-width="1"/>
<text transform="translate(36 413.34) scale(0.93 1)" font-size="7.8" text-anchor="end">40</text>
<line x1="39.2" y1="396.36" x2="42.2" y2="396.36" stroke="#222222" stroke-width="1"/>
<text transform="translate(36 398.56) scale(0.93 1)" font-size="7.8" text-anchor="end">60</text>
<line x1="39.2" y1="381.58" x2="42.2" y2="381.58" stroke="#222222" stroke-width="1"/>
<text transform="translate(36 383.78) scale(0.93 1)" font-size="7.8" text-anchor="end">80</text>
<line x1="39.2" y1="366.8" x2="42.2" y2="366.8" stroke="#222222" stroke-width="1"/>
<text transform="translate(36 369) scale(0.93 1)" font-size="7.8" text-anchor="end">100</text>
<line x1="39.2" y1="352.02" x2="42.2" y2="352.02" stroke="#222222" stroke-width="1"/>
<text transform="translate(36 354.22) scale(0.93 1)" font-size="7.8" text-anchor="end">120</text>
<line x1="42.2" y1="440.7" x2="42.2" y2="443.7" stroke="#222222" stroke-width="1"/>
<text transform="translate(42.2 453.6) scale(0.93 1)" font-size="7.8" text-anchor="middle">0</text>
<line x1="59.94" y1="440.7" x2="59.94" y2="443.7" stroke="#222222" stroke-width="1"/>
<text transform="translate(59.94 453.6) scale(0.93 1)" font-size="7.8" text-anchor="middle">20</text>
<line x1="77.68" y1="440.7" x2="77.68" y2="443.7" stroke="#222222" stroke-width="1"/>
<text transform="translate(77.68 453.6) scale(0.93 1)" font-size="7.8" text-anchor="middle">40</text>
<line x1="95.42" y1="440.7" x2="95.42" y2="443.7" stroke="#222222" stroke-width="1"/>
<text transform="translate(95.42 453.6) scale(0.93 1)" font-size="7.8" text-anchor="middle">60</text>
<line x1="113.16" y1="440.7" x2="113.16" y2="443.7" stroke="#222222" stroke-width="1"/>
<text transform="translate(113.16 453.6) scale(0.93 1)" font-size="7.8" text-anchor="middle">80</text>
<line x1="130.9" y1="440.7" x2="130.9" y2="443.7" stroke="#222222" stroke-width="1"/>
<text transform="translate(130.9 453.6) scale(0.93 1)" font-size="7.8" text-anchor="middle">100</text>
<line x1="148.64" y1="440.7" x2="148.64" y2="443.7" stroke="#222222" stroke-width="1"/>
<text transform="translate(148.64 453.6) scale(0.93 1)" font-size="7.8" text-anchor="middle">120</text>
<line x1="166.38" y1="440.7" x2="166.38" y2="443.7" stroke="#222222" stroke-width="1"/>
<text transform="translate(166.38 453.6) scale(0.93 1)" font-size="7.8" text-anchor="middle">140</text>
<text x="108.7" y="465.8" font-size="8.6" text-anchor="middle" textLength="13.2" lengthAdjust="spacingAndGlyphs">Days</text>
<text x="16.9" y="394.6" font-size="8.6" text-anchor="middle" textLength="59.5" lengthAdjust="spacingAndGlyphs" transform="rotate(-90 16.9 394.6)">Probability of survival</text>
<path d="M42.2 366.8 H111.39 V381.58 H122.47 V396.36 H127.35 V411.14 H132.23 V440.7" fill="none" stroke="#bf3045" stroke-width="1.0"/>
<path d="M42.2 366.8 H62.6 V379.66 H165.94" fill="none" stroke="#45a64e" stroke-width="1.0"/>
<path d="M42.2 366.8 H97.19 V381.58 H166.82" fill="none" stroke="#6ac4e8" stroke-width="1.0"/>
<path d="M42.2 366.8 H121.59 V411.14 H129.57 V425.92 H131.34 V440.7" fill="none" stroke="#4a6688" stroke-width="1.0"/>
<line x1="166.5" y1="377.4" x2="166.5" y2="382.1" stroke="#6a8a80" stroke-width="0.9"/>
<line x1="129" y1="376.9" x2="129" y2="379.2" stroke="#45a64e" stroke-width="0.8"/>
<line x1="172.8" y1="359.3" x2="182.6" y2="359.3" stroke="#4a6688" stroke-width="1.1"/>
<line x1="178.2" y1="357.3" x2="178.2" y2="359.3" stroke="#4a6688" stroke-width="0.8"/>
<text x="186.2" y="362.2" font-size="8" textLength="21.6" lengthAdjust="spacingAndGlyphs">Vehicle</text>
<line x1="172.8" y1="369.4" x2="182.6" y2="369.4" stroke="#bf3045" stroke-width="1.1"/>
<line x1="178.2" y1="367.4" x2="178.2" y2="369.4" stroke="#bf3045" stroke-width="0.8"/>
<text x="186.2" y="372.3" font-size="8" textLength="12" lengthAdjust="spacingAndGlyphs">BCI</text>
<line x1="172.8" y1="380.7" x2="182.6" y2="380.7" stroke="#6ac4e8" stroke-width="1.1"/>
<line x1="178.2" y1="378.7" x2="178.2" y2="380.7" stroke="#6ac4e8" stroke-width="0.8"/>
<text x="186.2" y="383.6" font-size="8" textLength="31.2" lengthAdjust="spacingAndGlyphs">Trametinib</text>
<line x1="172.8" y1="391" x2="182.6" y2="391" stroke="#45a64e" stroke-width="1.1"/>
<line x1="178.2" y1="389" x2="178.2" y2="391" stroke="#45a64e" stroke-width="0.8"/>
<text x="186.2" y="393.9" font-size="8" textLength="32" lengthAdjust="spacingAndGlyphs">BCI+Tram</text>
<line x1="225.6" y1="356.5" x2="225.6" y2="371.6" stroke="#4a4a4a" stroke-width="1.0"/>
<text x="227.6" y="364" font-size="6.8" text-anchor="middle" fill="#333" transform="rotate(90 227.6 364)">ns</text>
<line x1="233.9" y1="356.5" x2="233.9" y2="383.7" stroke="#4a4a4a" stroke-width="1.0"/>
<circle cx="238.1" cy="370.05" r="0.95" fill="#2a2a2a"/>
<line x1="242.4" y1="356.5" x2="242.4" y2="390.6" stroke="#4a4a4a" stroke-width="1.0"/>
<circle cx="246.6" cy="372.18" r="0.95" fill="#2a2a2a"/>
<circle cx="246.6" cy="374.82" r="0.95" fill="#2a2a2a"/>
<line x1="299.05" y1="136.1" x2="299.05" y2="42.2" stroke="#222222" stroke-width="1.2"/>
<line x1="298.45" y1="135.5" x2="435.9" y2="135.5" stroke="#222222" stroke-width="1.2"/>
<line x1="296.05" y1="135.5" x2="299.05" y2="135.5" stroke="#222222" stroke-width="1"/>
<text transform="translate(292.85 137.7) scale(0.93 1)" font-size="7.8" text-anchor="end">0</text>
<line x1="296.05" y1="117.28" x2="299.05" y2="117.28" stroke="#222222" stroke-width="1"/>
<text transform="translate(292.85 119.48) scale(0.93 1)" font-size="7.8" text-anchor="end">20</text>
<line x1="296.05" y1="99.06" x2="299.05" y2="99.06" stroke="#222222" stroke-width="1"/>
<text transform="translate(292.85 101.26) scale(0.93 1)" font-size="7.8" text-anchor="end">40</text>
<line x1="296.05" y1="80.84" x2="299.05" y2="80.84" stroke="#222222" stroke-width="1"/>
<text transform="translate(292.85 83.04) scale(0.93 1)" font-size="7.8" text-anchor="end">60</text>
<line x1="296.05" y1="62.62" x2="299.05" y2="62.62" stroke="#222222" stroke-width="1"/>
<text transform="translate(292.85 64.82) scale(0.93 1)" font-size="7.8" text-anchor="end">80</text>
<line x1="296.05" y1="44.4" x2="299.05" y2="44.4" stroke="#222222" stroke-width="1"/>
<text transform="translate(292.85 46.6) scale(0.93 1)" font-size="7.8" text-anchor="end">100</text>
<line x1="299.05" y1="135.5" x2="299.05" y2="138.5" stroke="#222222" stroke-width="1"/>
<text transform="translate(299.05 148.4) scale(0.93 1)" font-size="7.8" text-anchor="middle">0</text>
<line x1="317.31" y1="135.5" x2="317.31" y2="138.5" stroke="#222222" stroke-width="1"/>
<text transform="translate(317.31 148.4) scale(0.93 1)" font-size="7.8" text-anchor="middle">2</text>
<line x1="335.57" y1="135.5" x2="335.57" y2="138.5" stroke="#222222" stroke-width="1"/>
<text transform="translate(335.57 148.4) scale(0.93 1)" font-size="7.8" text-anchor="middle">4</text>
<line x1="353.83" y1="135.5" x2="353.83" y2="138.5" stroke="#222222" stroke-width="1"/>
<text transform="translate(353.83 148.4) scale(0.93 1)" font-size="7.8" text-anchor="middle">6</text>
<line x1="372.09" y1="135.5" x2="372.09" y2="138.5" stroke="#222222" stroke-width="1"/>
<text transform="translate(372.09 148.4) scale(0.93 1)" font-size="7.8" text-anchor="middle">8</text>
<line x1="390.35" y1="135.5" x2="390.35" y2="138.5" stroke="#222222" stroke-width="1"/>
<text transform="translate(390.35 148.4) scale(0.93 1)" font-size="7.8" text-anchor="middle">10</text>
<line x1="408.61" y1="135.5" x2="408.61" y2="138.5" stroke="#222222" stroke-width="1"/>
<text transform="translate(408.61 148.4) scale(0.93 1)" font-size="7.8" text-anchor="middle">12</text>
<line x1="426.87" y1="135.5" x2="426.87" y2="138.5" stroke="#222222" stroke-width="1"/>
<text transform="translate(426.87 148.4) scale(0.93 1)" font-size="7.8" text-anchor="middle">14</text>
<text x="367.35" y="160.9" font-size="8.6" text-anchor="middle" textLength="18" lengthAdjust="spacingAndGlyphs">Weeks</text>
<text x="275.2" y="89.05" font-size="8.6" text-anchor="middle" transform="rotate(-90 275.2 89.05)" textLength="70.2" lengthAdjust="spacingAndGlyphs">Percent venus<tspan font-size="5.5" dy="-3">+</tspan><tspan dy="3"> cells in PB</tspan></text>
<line x1="317.31" y1="105.25" x2="317.31" y2="110.72" stroke="#359438" stroke-width="0.9"/>
<line x1="315.46" y1="105.25" x2="319.16" y2="105.25" stroke="#359438" stroke-width="0.9"/>
<line x1="315.46" y1="110.72" x2="319.16" y2="110.72" stroke="#359438" stroke-width="0.9"/>
<line x1="326.44" y1="108.63" x2="326.44" y2="113.18" stroke="#359438" stroke-width="0.9"/>
<line x1="324.59" y1="108.63" x2="328.29" y2="108.63" stroke="#359438" stroke-width="0.9"/>
<line x1="324.59" y1="113.18" x2="328.29" y2="113.18" stroke="#359438" stroke-width="0.9"/>
<line x1="335.57" y1="118.37" x2="335.57" y2="125.3" stroke="#359438" stroke-width="0.9"/>
<line x1="333.72" y1="118.37" x2="337.42" y2="118.37" stroke="#359438" stroke-width="0.9"/>
<line x1="333.72" y1="125.3" x2="337.42" y2="125.3" stroke="#359438" stroke-width="0.9"/>
<line x1="344.7" y1="125.84" x2="344.7" y2="129.49" stroke="#359438" stroke-width="0.9"/>
<line x1="342.85" y1="125.84" x2="346.55" y2="125.84" stroke="#359438" stroke-width="0.9"/>
<line x1="342.85" y1="129.49" x2="346.55" y2="129.49" stroke="#359438" stroke-width="0.9"/>
<line x1="353.83" y1="134.13" x2="353.83" y2="135.5" stroke="#359438" stroke-width="0.9"/>
<line x1="351.98" y1="134.13" x2="355.68" y2="134.13" stroke="#359438" stroke-width="0.9"/>
<line x1="351.98" y1="135.5" x2="355.68" y2="135.5" stroke="#359438" stroke-width="0.9"/>
<path d="M317.31 107.99 L326.44 110.9 L335.57 121.83 L344.7 127.67 L353.83 135.04 L362.96 135.5 L372.09 135.5 L381.22 135.5 L390.35 135.5" fill="none" stroke="#359438" stroke-width="1.0"/>
<path d="M317.31 105.99L319.21 109.29L315.41 109.29Z" fill="#359438"/>
<path d="M326.44 108.9L328.34 112.2L324.54 112.2Z" fill="#359438"/>
<path d="M335.57 119.83L337.47 123.13L333.67 123.13Z" fill="#359438"/>
<path d="M344.7 125.67L346.6 128.97L342.8 128.97Z" fill="#359438"/>
<path d="M353.83 133.04L355.73 136.34L351.93 136.34Z" fill="#359438"/>
<path d="M362.96 133.5L364.86 136.8L361.06 136.8Z" fill="#359438"/>
<path d="M372.09 133.5L373.99 136.8L370.19 136.8Z" fill="#359438"/>
<path d="M381.22 133.5L383.12 136.8L379.32 136.8Z" fill="#359438"/>
<path d="M390.35 133.5L392.25 136.8L388.45 136.8Z" fill="#359438"/>
<line x1="317.31" y1="104.98" x2="317.31" y2="115.91" stroke="#379dd5" stroke-width="0.9"/>
<line x1="315.46" y1="104.98" x2="319.16" y2="104.98" stroke="#379dd5" stroke-width="0.9"/>
<line x1="315.46" y1="115.91" x2="319.16" y2="115.91" stroke="#379dd5" stroke-width="0.9"/>
<line x1="326.44" y1="99.33" x2="326.44" y2="112.09" stroke="#379dd5" stroke-width="0.9"/>
<line x1="324.59" y1="99.33" x2="328.29" y2="99.33" stroke="#379dd5" stroke-width="0.9"/>
<line x1="324.59" y1="112.09" x2="328.29" y2="112.09" stroke="#379dd5" stroke-width="0.9"/>
<line x1="335.57" y1="96.14" x2="335.57" y2="112" stroke="#379dd5" stroke-width="0.9"/>
<line x1="333.72" y1="96.14" x2="337.42" y2="96.14" stroke="#379dd5" stroke-width="0.9"/>
<line x1="333.72" y1="112" x2="337.42" y2="112" stroke="#379dd5" stroke-width="0.9"/>
<line x1="344.7" y1="97.97" x2="344.7" y2="109.26" stroke="#379dd5" stroke-width="0.9"/>
<line x1="342.85" y1="97.97" x2="346.55" y2="97.97" stroke="#379dd5" stroke-width="0.9"/>
<line x1="342.85" y1="109.26" x2="346.55" y2="109.26" stroke="#379dd5" stroke-width="0.9"/>
<line x1="353.83" y1="96.69" x2="353.83" y2="110.54" stroke="#379dd5" stroke-width="0.9"/>
<line x1="351.98" y1="96.69" x2="355.68" y2="96.69" stroke="#379dd5" stroke-width="0.9"/>
<line x1="351.98" y1="110.54" x2="355.68" y2="110.54" stroke="#379dd5" stroke-width="0.9"/>
<line x1="362.96" y1="95.96" x2="362.96" y2="114.91" stroke="#379dd5" stroke-width="0.9"/>
<line x1="361.11" y1="95.96" x2="364.81" y2="95.96" stroke="#379dd5" stroke-width="0.9"/>
<line x1="361.11" y1="114.91" x2="364.81" y2="114.91" stroke="#379dd5" stroke-width="0.9"/>
<line x1="372.09" y1="93.14" x2="372.09" y2="115" stroke="#379dd5" stroke-width="0.9"/>
<line x1="370.24" y1="93.14" x2="373.94" y2="93.14" stroke="#379dd5" stroke-width="0.9"/>
<line x1="370.24" y1="115" x2="373.94" y2="115" stroke="#379dd5" stroke-width="0.9"/>
<line x1="381.22" y1="94.96" x2="381.22" y2="115" stroke="#379dd5" stroke-width="0.9"/>
<line x1="379.37" y1="94.96" x2="383.07" y2="94.96" stroke="#379dd5" stroke-width="0.9"/>
<line x1="379.37" y1="115" x2="383.07" y2="115" stroke="#379dd5" stroke-width="0.9"/>
<line x1="390.35" y1="97.24" x2="390.35" y2="115.46" stroke="#379dd5" stroke-width="0.9"/>
<line x1="388.5" y1="97.24" x2="392.2" y2="97.24" stroke="#379dd5" stroke-width="0.9"/>
<line x1="388.5" y1="115.46" x2="392.2" y2="115.46" stroke="#379dd5" stroke-width="0.9"/>
<path d="M317.31 110.45 L326.44 105.71 L335.57 104.07 L344.7 103.61 L353.83 103.61 L362.96 105.44 L372.09 104.07 L381.22 104.98 L390.35 106.35" fill="none" stroke="#379dd5" stroke-width="1.0"/>
<rect x="315.61" y="108.75" width="3.4" height="3.4" rx="0.7" fill="#379dd5"/>
<rect x="324.74" y="104.01" width="3.4" height="3.4" rx="0.7" fill="#379dd5"/>
<rect x="333.87" y="102.37" width="3.4" height="3.4" rx="0.7" fill="#379dd5"/>
<rect x="343" y="101.91" width="3.4" height="3.4" rx="0.7" fill="#379dd5"/>
<rect x="352.13" y="101.91" width="3.4" height="3.4" rx="0.7" fill="#379dd5"/>
<rect x="361.26" y="103.74" width="3.4" height="3.4" rx="0.7" fill="#379dd5"/>
<rect x="370.39" y="102.37" width="3.4" height="3.4" rx="0.7" fill="#379dd5"/>
<rect x="379.52" y="103.28" width="3.4" height="3.4" rx="0.7" fill="#379dd5"/>
<rect x="388.65" y="104.65" width="3.4" height="3.4" rx="0.7" fill="#379dd5"/>
<line x1="317.31" y1="95.78" x2="317.31" y2="108.53" stroke="#bb304a" stroke-width="0.9"/>
<line x1="315.46" y1="95.78" x2="319.16" y2="95.78" stroke="#bb304a" stroke-width="0.9"/>
<line x1="315.46" y1="108.53" x2="319.16" y2="108.53" stroke="#bb304a" stroke-width="0.9"/>
<line x1="326.44" y1="92.68" x2="326.44" y2="99.97" stroke="#bb304a" stroke-width="0.9"/>
<line x1="324.59" y1="92.68" x2="328.29" y2="92.68" stroke="#bb304a" stroke-width="0.9"/>
<line x1="324.59" y1="99.97" x2="328.29" y2="99.97" stroke="#bb304a" stroke-width="0.9"/>
<line x1="335.57" y1="79.47" x2="335.57" y2="86.76" stroke="#bb304a" stroke-width="0.9"/>
<line x1="333.72" y1="79.47" x2="337.42" y2="79.47" stroke="#bb304a" stroke-width="0.9"/>
<line x1="333.72" y1="86.76" x2="337.42" y2="86.76" stroke="#bb304a" stroke-width="0.9"/>
<line x1="344.7" y1="60.98" x2="344.7" y2="82.84" stroke="#bb304a" stroke-width="0.9"/>
<line x1="342.85" y1="60.98" x2="346.55" y2="60.98" stroke="#bb304a" stroke-width="0.9"/>
<line x1="342.85" y1="82.84" x2="346.55" y2="82.84" stroke="#bb304a" stroke-width="0.9"/>
<path d="M317.31 102.16 L326.44 96.33 L335.57 83.12 L344.7 71.91" fill="none" stroke="#bb304a" stroke-width="1.0"/>
<circle cx="317.31" cy="102.16" r="1.75" fill="#f2b3c0" stroke="#bb304a" stroke-width="1"/>
<circle cx="326.44" cy="96.33" r="1.75" fill="#f2b3c0" stroke="#bb304a" stroke-width="1"/>
<circle cx="335.57" cy="83.12" r="1.75" fill="#f2b3c0" stroke="#bb304a" stroke-width="1"/>
<circle cx="344.7" cy="71.91" r="1.75" fill="#f2b3c0" stroke="#bb304a" stroke-width="1"/>
<line x1="317.31" y1="102.07" x2="317.31" y2="118.46" stroke="#274670" stroke-width="0.9"/>
<line x1="315.46" y1="102.07" x2="319.16" y2="102.07" stroke="#274670" stroke-width="0.9"/>
<line x1="315.46" y1="118.46" x2="319.16" y2="118.46" stroke="#274670" stroke-width="0.9"/>
<line x1="326.44" y1="81.3" x2="326.44" y2="106.8" stroke="#274670" stroke-width="0.9"/>
<line x1="324.59" y1="81.3" x2="328.29" y2="81.3" stroke="#274670" stroke-width="0.9"/>
<line x1="324.59" y1="106.8" x2="328.29" y2="106.8" stroke="#274670" stroke-width="0.9"/>
<line x1="335.57" y1="62.16" x2="335.57" y2="84.03" stroke="#274670" stroke-width="0.9"/>
<line x1="333.72" y1="62.16" x2="337.42" y2="62.16" stroke="#274670" stroke-width="0.9"/>
<line x1="333.72" y1="84.03" x2="337.42" y2="84.03" stroke="#274670" stroke-width="0.9"/>
<path d="M317.31 110.27 L326.44 94.05 L335.57 73.1" fill="none" stroke="#274670" stroke-width="1.0"/>
<circle cx="317.31" cy="110.27" r="1.9" fill="#15304f"/>
<circle cx="326.44" cy="94.05" r="1.9" fill="#15304f"/>
<circle cx="335.57" cy="73.1" r="1.9" fill="#15304f"/>
<line x1="416.2" y1="51.9" x2="426.6" y2="51.9" stroke="#15304f" stroke-width="1.1"/>
<circle cx="421.4" cy="51.9" r="1.9" fill="#15304f"/>
<text x="432.2" y="54" font-size="8" textLength="21.6" lengthAdjust="spacingAndGlyphs">Vehicle</text>
<line x1="416.2" y1="62.5" x2="426.6" y2="62.5" stroke="#bb304a" stroke-width="1.1"/>
<circle cx="421.4" cy="62.5" r="1.75" fill="#f2b3c0" stroke="#bb304a" stroke-width="1"/>
<text x="432.2" y="64.6" font-size="8" textLength="12" lengthAdjust="spacingAndGlyphs">BCI</text>
<line x1="416.2" y1="72.4" x2="426.6" y2="72.4" stroke="#379dd5" stroke-width="1.1"/>
<rect x="419.7" y="70.7" width="3.4" height="3.4" rx="0.7" fill="#379dd5"/>
<text x="432.2" y="74.5" font-size="8" textLength="31.2" lengthAdjust="spacingAndGlyphs">Trametinib</text>
<line x1="416.2" y1="81.5" x2="426.6" y2="81.5" stroke="#359438" stroke-width="1.1"/>
<path d="M421.4 79.5L423.3 82.8L419.5 82.8Z" fill="#359438"/>
<text x="432.2" y="83.6" font-size="8" textLength="32" lengthAdjust="spacingAndGlyphs">BCI+Tram</text>
<line x1="469.2" y1="49.2" x2="469.2" y2="63.8" stroke="#4a4a4a" stroke-width="1.0"/>
<text x="471.2" y="56.45" font-size="6.8" text-anchor="middle" fill="#333" transform="rotate(90 471.2 56.45)">ns</text>
<line x1="477.5" y1="49.2" x2="477.5" y2="76.7" stroke="#4a4a4a" stroke-width="1.0"/>
<circle cx="481.7" cy="61.57" r="0.95" fill="#2a2a2a"/>
<circle cx="481.7" cy="64.22" r="0.95" fill="#2a2a2a"/>
<line x1="486.2" y1="49.2" x2="486.2" y2="83.7" stroke="#4a4a4a" stroke-width="1.0"/>
<circle cx="490.4" cy="63.75" r="0.95" fill="#2a2a2a"/>
<circle cx="490.4" cy="66.4" r="0.95" fill="#2a2a2a"/>
<circle cx="490.4" cy="69.05" r="0.95" fill="#2a2a2a"/>
<line x1="299.2" y1="290.5" x2="299.2" y2="200.02" stroke="#222222" stroke-width="1.2"/>
<line x1="298.6" y1="289.9" x2="434" y2="289.9" stroke="#222222" stroke-width="1.2"/>
<line x1="296.2" y1="289.9" x2="299.2" y2="289.9" stroke="#222222" stroke-width="1"/>
<text transform="translate(293 292.1) scale(0.93 1)" font-size="7.8" text-anchor="end">0</text>
<line x1="296.2" y1="278.94" x2="299.2" y2="278.94" stroke="#222222" stroke-width="1"/>
<text transform="translate(293 281.14) scale(0.93 1)" font-size="7.8" text-anchor="end">50</text>
<line x1="296.2" y1="267.98" x2="299.2" y2="267.98" stroke="#222222" stroke-width="1"/>
<text transform="translate(293 270.18) scale(0.93 1)" font-size="7.8" text-anchor="end">100</text>
<line x1="296.2" y1="257.02" x2="299.2" y2="257.02" stroke="#222222" stroke-width="1"/>
<text transform="translate(293 259.22) scale(0.93 1)" font-size="7.8" text-anchor="end">150</text>
<line x1="296.2" y1="246.06" x2="299.2" y2="246.06" stroke="#222222" stroke-width="1"/>
<text transform="translate(293 248.26) scale(0.93 1)" font-size="7.8" text-anchor="end">200</text>
<line x1="296.2" y1="235.1" x2="299.2" y2="235.1" stroke="#222222" stroke-width="1"/>
<text transform="translate(293 237.3) scale(0.93 1)" font-size="7.8" text-anchor="end">250</text>
<line x1="296.2" y1="224.14" x2="299.2" y2="224.14" stroke="#222222" stroke-width="1"/>
<text transform="translate(293 226.34) scale(0.93 1)" font-size="7.8" text-anchor="end">300</text>
<line x1="296.2" y1="213.18" x2="299.2" y2="213.18" stroke="#222222" stroke-width="1"/>
<text transform="translate(293 215.38) scale(0.93 1)" font-size="7.8" text-anchor="end">350</text>
<line x1="296.2" y1="202.22" x2="299.2" y2="202.22" stroke="#222222" stroke-width="1"/>
<text transform="translate(293 204.42) scale(0.93 1)" font-size="7.8" text-anchor="end">400</text>
<line x1="299.2" y1="289.9" x2="299.2" y2="292.9" stroke="#222222" stroke-width="1"/>
<text transform="translate(299.2 302.8) scale(0.93 1)" font-size="7.8" text-anchor="middle">0</text>
<line x1="325.5" y1="289.9" x2="325.5" y2="292.9" stroke="#222222" stroke-width="1"/>
<text transform="translate(325.5 302.8) scale(0.93 1)" font-size="7.8" text-anchor="middle">2</text>
<line x1="351.8" y1="289.9" x2="351.8" y2="292.9" stroke="#222222" stroke-width="1"/>
<text transform="translate(351.8 302.8) scale(0.93 1)" font-size="7.8" text-anchor="middle">4</text>
<line x1="378.1" y1="289.9" x2="378.1" y2="292.9" stroke="#222222" stroke-width="1"/>
<text transform="translate(378.1 302.8) scale(0.93 1)" font-size="7.8" text-anchor="middle">6</text>
<line x1="404.4" y1="289.9" x2="404.4" y2="292.9" stroke="#222222" stroke-width="1"/>
<text transform="translate(404.4 302.8) scale(0.93 1)" font-size="7.8" text-anchor="middle">8</text>
<line x1="430.7" y1="289.9" x2="430.7" y2="292.9" stroke="#222222" stroke-width="1"/>
<text transform="translate(430.7 302.8) scale(0.93 1)" font-size="7.8" text-anchor="middle">10</text>
<line x1="299.8" y1="287.2" x2="432" y2="287.2" stroke="#8f8f96" stroke-width="1.0" stroke-dasharray="1.6 0.5"/>
<text x="367.35" y="314.7" font-size="8.6" text-anchor="middle" textLength="18" lengthAdjust="spacingAndGlyphs">Weeks</text>
<text x="274.2" y="245.2" font-size="8.6" text-anchor="middle" textLength="51" lengthAdjust="spacingAndGlyphs" transform="rotate(-90 274.2 245.2)">WBC (K/uL) in PB</text>
<line x1="325.5" y1="283.32" x2="325.5" y2="285.95" stroke="#2f9fbf" stroke-width="0.9"/>
<line x1="323.65" y1="283.32" x2="327.35" y2="283.32" stroke="#2f9fbf" stroke-width="0.9"/>
<line x1="323.65" y1="285.95" x2="327.35" y2="285.95" stroke="#2f9fbf" stroke-width="0.9"/>
<line x1="338.65" y1="277.84" x2="338.65" y2="288.8" stroke="#2f9fbf" stroke-width="0.9"/>
<line x1="336.8" y1="277.84" x2="340.5" y2="277.84" stroke="#2f9fbf" stroke-width="0.9"/>
<line x1="336.8" y1="288.8" x2="340.5" y2="288.8" stroke="#2f9fbf" stroke-width="0.9"/>
<line x1="351.8" y1="286.17" x2="351.8" y2="287.93" stroke="#2f9fbf" stroke-width="0.9"/>
<line x1="349.95" y1="286.17" x2="353.65" y2="286.17" stroke="#2f9fbf" stroke-width="0.9"/>
<line x1="349.95" y1="287.93" x2="353.65" y2="287.93" stroke="#2f9fbf" stroke-width="0.9"/>
<line x1="364.95" y1="286.17" x2="364.95" y2="287.93" stroke="#2f9fbf" stroke-width="0.9"/>
<line x1="363.1" y1="286.17" x2="366.8" y2="286.17" stroke="#2f9fbf" stroke-width="0.9"/>
<line x1="363.1" y1="287.93" x2="366.8" y2="287.93" stroke="#2f9fbf" stroke-width="0.9"/>
<line x1="378.1" y1="284.64" x2="378.1" y2="288.15" stroke="#2f9fbf" stroke-width="0.9"/>
<line x1="376.25" y1="284.64" x2="379.95" y2="284.64" stroke="#2f9fbf" stroke-width="0.9"/>
<line x1="376.25" y1="288.15" x2="379.95" y2="288.15" stroke="#2f9fbf" stroke-width="0.9"/>
<line x1="391.25" y1="284.64" x2="391.25" y2="288.15" stroke="#2f9fbf" stroke-width="0.9"/>
<line x1="389.4" y1="284.64" x2="393.1" y2="284.64" stroke="#2f9fbf" stroke-width="0.9"/>
<line x1="389.4" y1="288.15" x2="393.1" y2="288.15" stroke="#2f9fbf" stroke-width="0.9"/>
<line x1="404.4" y1="286.17" x2="404.4" y2="287.93" stroke="#2f9fbf" stroke-width="0.9"/>
<line x1="402.55" y1="286.17" x2="406.25" y2="286.17" stroke="#2f9fbf" stroke-width="0.9"/>
<line x1="402.55" y1="287.93" x2="406.25" y2="287.93" stroke="#2f9fbf" stroke-width="0.9"/>
<line x1="417.55" y1="286.17" x2="417.55" y2="287.93" stroke="#2f9fbf" stroke-width="0.9"/>
<line x1="415.7" y1="286.17" x2="419.4" y2="286.17" stroke="#2f9fbf" stroke-width="0.9"/>
<line x1="415.7" y1="287.93" x2="419.4" y2="287.93" stroke="#2f9fbf" stroke-width="0.9"/>
<path d="M325.5 284.64 L338.65 283.32 L351.8 287.05 L364.95 287.05 L378.1 286.39 L391.25 286.39 L404.4 287.05 L417.55 287.05" fill="none" stroke="#2f9fbf" stroke-width="1.0"/>
<rect x="323.8" y="282.94" width="3.4" height="3.4" rx="0.7" fill="#2f9fbf"/>
<rect x="336.95" y="281.62" width="3.4" height="3.4" rx="0.7" fill="#2f9fbf"/>
<rect x="350.1" y="285.35" width="3.4" height="3.4" rx="0.7" fill="#2f9fbf"/>
<rect x="363.25" y="285.35" width="3.4" height="3.4" rx="0.7" fill="#2f9fbf"/>
<rect x="376.4" y="284.69" width="3.4" height="3.4" rx="0.7" fill="#2f9fbf"/>
<rect x="389.55" y="284.69" width="3.4" height="3.4" rx="0.7" fill="#2f9fbf"/>
<rect x="402.7" y="285.35" width="3.4" height="3.4" rx="0.7" fill="#2f9fbf"/>
<rect x="415.85" y="285.35" width="3.4" height="3.4" rx="0.7" fill="#2f9fbf"/>
<line x1="325.5" y1="282.89" x2="325.5" y2="285.08" stroke="#55b872" stroke-width="0.9"/>
<line x1="323.65" y1="282.89" x2="327.35" y2="282.89" stroke="#55b872" stroke-width="0.9"/>
<line x1="323.65" y1="285.08" x2="327.35" y2="285.08" stroke="#55b872" stroke-width="0.9"/>
<line x1="338.65" y1="283.54" x2="338.65" y2="285.74" stroke="#55b872" stroke-width="0.9"/>
<line x1="336.8" y1="283.54" x2="340.5" y2="283.54" stroke="#55b872" stroke-width="0.9"/>
<line x1="336.8" y1="285.74" x2="340.5" y2="285.74" stroke="#55b872" stroke-width="0.9"/>
<line x1="351.8" y1="286.17" x2="351.8" y2="287.49" stroke="#55b872" stroke-width="0.9"/>
<line x1="349.95" y1="286.17" x2="353.65" y2="286.17" stroke="#55b872" stroke-width="0.9"/>
<line x1="349.95" y1="287.49" x2="353.65" y2="287.49" stroke="#55b872" stroke-width="0.9"/>
<line x1="364.95" y1="286.61" x2="364.95" y2="287.93" stroke="#55b872" stroke-width="0.9"/>
<line x1="363.1" y1="286.61" x2="366.8" y2="286.61" stroke="#55b872" stroke-width="0.9"/>
<line x1="363.1" y1="287.93" x2="366.8" y2="287.93" stroke="#55b872" stroke-width="0.9"/>
<line x1="378.1" y1="286.61" x2="378.1" y2="287.93" stroke="#55b872" stroke-width="0.9"/>
<line x1="376.25" y1="286.61" x2="379.95" y2="286.61" stroke="#55b872" stroke-width="0.9"/>
<line x1="376.25" y1="287.93" x2="379.95" y2="287.93" stroke="#55b872" stroke-width="0.9"/>
<line x1="391.25" y1="286.39" x2="391.25" y2="287.71" stroke="#55b872" stroke-width="0.9"/>
<line x1="389.4" y1="286.39" x2="393.1" y2="286.39" stroke="#55b872" stroke-width="0.9"/>
<line x1="389.4" y1="287.71" x2="393.1" y2="287.71" stroke="#55b872" stroke-width="0.9"/>
<line x1="404.4" y1="286.61" x2="404.4" y2="287.93" stroke="#55b872" stroke-width="0.9"/>
<line x1="402.55" y1="286.61" x2="406.25" y2="286.61" stroke="#55b872" stroke-width="0.9"/>
<line x1="402.55" y1="287.93" x2="406.25" y2="287.93" stroke="#55b872" stroke-width="0.9"/>
<line x1="417.55" y1="286.61" x2="417.55" y2="287.93" stroke="#55b872" stroke-width="0.9"/>
<line x1="415.7" y1="286.61" x2="419.4" y2="286.61" stroke="#55b872" stroke-width="0.9"/>
<line x1="415.7" y1="287.93" x2="419.4" y2="287.93" stroke="#55b872" stroke-width="0.9"/>
<path d="M325.5 283.98 L338.65 284.64 L351.8 286.83 L364.95 287.27 L378.1 287.27 L391.25 287.05 L404.4 287.27 L417.55 287.27" fill="none" stroke="#55b872" stroke-width="1.0"/>
<path d="M325.5 281.98L327.4 285.28L323.6 285.28Z" fill="#55b872"/>
<path d="M338.65 282.64L340.55 285.94L336.75 285.94Z" fill="#55b872"/>
<path d="M351.8 284.83L353.7 288.13L349.9 288.13Z" fill="#55b872"/>
<path d="M364.95 285.27L366.85 288.57L363.05 288.57Z" fill="#55b872"/>
<path d="M378.1 285.27L380 288.57L376.2 288.57Z" fill="#55b872"/>
<path d="M391.25 285.05L393.15 288.35L389.35 288.35Z" fill="#55b872"/>
<path d="M404.4 285.27L406.3 288.57L402.5 288.57Z" fill="#55b872"/>
<path d="M417.55 285.27L419.45 288.57L415.65 288.57Z" fill="#55b872"/>
<line x1="325.5" y1="278.72" x2="325.5" y2="282.23" stroke="#bb304a" stroke-width="0.9"/>
<line x1="323.65" y1="278.72" x2="327.35" y2="278.72" stroke="#bb304a" stroke-width="0.9"/>
<line x1="323.65" y1="282.23" x2="327.35" y2="282.23" stroke="#bb304a" stroke-width="0.9"/>
<line x1="338.65" y1="261.4" x2="338.65" y2="277.19" stroke="#bb304a" stroke-width="0.9"/>
<line x1="336.8" y1="261.4" x2="340.5" y2="261.4" stroke="#bb304a" stroke-width="0.9"/>
<line x1="336.8" y1="277.19" x2="340.5" y2="277.19" stroke="#bb304a" stroke-width="0.9"/>
<line x1="351.8" y1="235.32" x2="351.8" y2="264.69" stroke="#bb304a" stroke-width="0.9"/>
<line x1="349.95" y1="235.32" x2="353.65" y2="235.32" stroke="#bb304a" stroke-width="0.9"/>
<line x1="349.95" y1="264.69" x2="353.65" y2="264.69" stroke="#bb304a" stroke-width="0.9"/>
<line x1="364.95" y1="224.8" x2="364.95" y2="239.26" stroke="#bb304a" stroke-width="0.9"/>
<line x1="363.1" y1="224.8" x2="366.8" y2="224.8" stroke="#bb304a" stroke-width="0.9"/>
<line x1="363.1" y1="239.26" x2="366.8" y2="239.26" stroke="#bb304a" stroke-width="0.9"/>
<path d="M325.5 280.47 L338.65 269.3 L351.8 250.01 L364.95 232.03" fill="none" stroke="#bb304a" stroke-width="1.0"/>
<circle cx="325.5" cy="280.47" r="1.75" fill="#f2b3c0" stroke="#bb304a" stroke-width="1"/>
<circle cx="338.65" cy="269.3" r="1.75" fill="#f2b3c0" stroke="#bb304a" stroke-width="1"/>
<circle cx="351.8" cy="250.01" r="1.75" fill="#f2b3c0" stroke="#bb304a" stroke-width="1"/>
<circle cx="364.95" cy="232.03" r="1.75" fill="#f2b3c0" stroke="#bb304a" stroke-width="1"/>
<line x1="325.5" y1="280.26" x2="325.5" y2="284.64" stroke="#274670" stroke-width="0.9"/>
<line x1="323.65" y1="280.26" x2="327.35" y2="280.26" stroke="#274670" stroke-width="0.9"/>
<line x1="323.65" y1="284.64" x2="327.35" y2="284.64" stroke="#274670" stroke-width="0.9"/>
<line x1="338.65" y1="263.38" x2="338.65" y2="280.04" stroke="#274670" stroke-width="0.9"/>
<line x1="336.8" y1="263.38" x2="340.5" y2="263.38" stroke="#274670" stroke-width="0.9"/>
<line x1="336.8" y1="280.04" x2="340.5" y2="280.04" stroke="#274670" stroke-width="0.9"/>
<line x1="351.8" y1="238.61" x2="351.8" y2="256.14" stroke="#274670" stroke-width="0.9"/>
<line x1="349.95" y1="238.61" x2="353.65" y2="238.61" stroke="#274670" stroke-width="0.9"/>
<line x1="349.95" y1="256.14" x2="353.65" y2="256.14" stroke="#274670" stroke-width="0.9"/>
<line x1="364.95" y1="217.34" x2="364.95" y2="235.76" stroke="#274670" stroke-width="0.9"/>
<line x1="363.1" y1="217.34" x2="366.8" y2="217.34" stroke="#274670" stroke-width="0.9"/>
<line x1="363.1" y1="235.76" x2="366.8" y2="235.76" stroke="#274670" stroke-width="0.9"/>
<path d="M325.5 282.45 L338.65 271.71 L351.8 247.38 L364.95 226.55" fill="none" stroke="#274670" stroke-width="1.0"/>
<circle cx="325.5" cy="282.45" r="1.9" fill="#15304f"/>
<circle cx="338.65" cy="271.71" r="1.9" fill="#15304f"/>
<circle cx="351.8" cy="247.38" r="1.9" fill="#15304f"/>
<circle cx="364.95" cy="226.55" r="1.9" fill="#15304f"/>
<line x1="418.6" y1="238.6" x2="428" y2="238.6" stroke="#15304f" stroke-width="1.1"/>
<circle cx="423.3" cy="238.6" r="1.9" fill="#15304f"/>
<text x="431.4" y="240.7" font-size="8" textLength="21.6" lengthAdjust="spacingAndGlyphs">Vehicle</text>
<line x1="418.6" y1="248.4" x2="428" y2="248.4" stroke="#bb304a" stroke-width="1.1"/>
<circle cx="423.3" cy="248.4" r="1.75" fill="#f2b3c0" stroke="#bb304a" stroke-width="1"/>
<text x="431.4" y="250.5" font-size="8" textLength="12" lengthAdjust="spacingAndGlyphs">BCI</text>
<line x1="418.6" y1="257.4" x2="428" y2="257.4" stroke="#379dd5" stroke-width="1.1"/>
<rect x="421.6" y="255.7" width="3.4" height="3.4" rx="0.7" fill="#379dd5"/>
<text x="431.4" y="259.5" font-size="8" textLength="31.2" lengthAdjust="spacingAndGlyphs">Trametinib</text>
<line x1="418.6" y1="266.2" x2="428" y2="266.2" stroke="#359438" stroke-width="1.1"/>
<path d="M423.3 264.2L425.2 267.5L421.4 267.5Z" fill="#359438"/>
<text x="431.4" y="268.3" font-size="8" textLength="32" lengthAdjust="spacingAndGlyphs">BCI+Tram</text>
<line x1="468.5" y1="235.9" x2="468.5" y2="250.5" stroke="#4a4a4a" stroke-width="1.0"/>
<text x="470.5" y="243.15" font-size="6.8" text-anchor="middle" fill="#333" transform="rotate(90 470.5 243.15)">ns</text>
<line x1="477.2" y1="235.9" x2="477.2" y2="263.4" stroke="#4a4a4a" stroke-width="1.0"/>
<circle cx="481.4" cy="246.95" r="0.95" fill="#2a2a2a"/>
<circle cx="481.4" cy="249.6" r="0.95" fill="#2a2a2a"/>
<circle cx="481.4" cy="252.25" r="0.95" fill="#2a2a2a"/>
<line x1="485.8" y1="235.9" x2="485.8" y2="270.4" stroke="#4a4a4a" stroke-width="1.0"/>
<circle cx="490" cy="250.45" r="0.95" fill="#2a2a2a"/>
<circle cx="490" cy="253.1" r="0.95" fill="#2a2a2a"/>
<circle cx="490" cy="255.75" r="0.95" fill="#2a2a2a"/>
<line x1="299.2" y1="441.3" x2="299.2" y2="349.82" stroke="#222222" stroke-width="1.2"/>
<line x1="298.6" y1="440.7" x2="432.8" y2="440.7" stroke="#222222" stroke-width="1.2"/>
<line x1="296.2" y1="440.7" x2="299.2" y2="440.7" stroke="#222222" stroke-width="1"/>
<text transform="translate(293 442.9) scale(0.93 1)" font-size="7.8" text-anchor="end">0</text>
<line x1="296.2" y1="425.92" x2="299.2" y2="425.92" stroke="#222222" stroke-width="1"/>
<text transform="translate(293 428.12) scale(0.93 1)" font-size="7.8" text-anchor="end">20</text>
<line x1="296.2" y1="411.14" x2="299.2" y2="411.14" stroke="#222222" stroke-width="1"/>
<text transform="translate(293 413.34) scale(0.93 1)" font-size="7.8" text-anchor="end">40</text>
<line x1="296.2" y1="396.36" x2="299.2" y2="396.36" stroke="#222222" stroke-width="1"/>
<text transform="translate(293 398.56) scale(0.93 1)" font-size="7.8" text-anchor="end">60</text>
<line x1="296.2" y1="381.58" x2="299.2" y2="381.58" stroke="#222222" stroke-width="1"/>
<text transform="translate(293 383.78) scale(0.93 1)" font-size="7.8" text-anchor="end">80</text>
<line x1="296.2" y1="366.8" x2="299.2" y2="366.8" stroke="#222222" stroke-width="1"/>
<text transform="translate(293 369) scale(0.93 1)" font-size="7.8" text-anchor="end">100</text>
<line x1="296.2" y1="352.02" x2="299.2" y2="352.02" stroke="#222222" stroke-width="1"/>
<text transform="translate(293 354.22) scale(0.93 1)" font-size="7.8" text-anchor="end">120</text>
<line x1="299.2" y1="440.7" x2="299.2" y2="443.7" stroke="#222222" stroke-width="1"/>
<text transform="translate(299.2 453.6) scale(0.93 1)" font-size="7.8" text-anchor="middle">0</text>
<line x1="317.05" y1="440.7" x2="317.05" y2="443.7" stroke="#222222" stroke-width="1"/>
<text transform="translate(317.05 453.6) scale(0.93 1)" font-size="7.8" text-anchor="middle">20</text>
<line x1="334.9" y1="440.7" x2="334.9" y2="443.7" stroke="#222222" stroke-width="1"/>
<text transform="translate(334.9 453.6) scale(0.93 1)" font-size="7.8" text-anchor="middle">40</text>
<line x1="352.75" y1="440.7" x2="352.75" y2="443.7" stroke="#222222" stroke-width="1"/>
<text transform="translate(352.75 453.6) scale(0.93 1)" font-size="7.8" text-anchor="middle">60</text>
<line x1="370.6" y1="440.7" x2="370.6" y2="443.7" stroke="#222222" stroke-width="1"/>
<text transform="translate(370.6 453.6) scale(0.93 1)" font-size="7.8" text-anchor="middle">80</text>
<line x1="388.45" y1="440.7" x2="388.45" y2="443.7" stroke="#222222" stroke-width="1"/>
<text transform="translate(388.45 453.6) scale(0.93 1)" font-size="7.8" text-anchor="middle">100</text>
<line x1="406.3" y1="440.7" x2="406.3" y2="443.7" stroke="#222222" stroke-width="1"/>
<text transform="translate(406.3 453.6) scale(0.93 1)" font-size="7.8" text-anchor="middle">120</text>
<line x1="424.15" y1="440.7" x2="424.15" y2="443.7" stroke="#222222" stroke-width="1"/>
<text transform="translate(424.15 453.6) scale(0.93 1)" font-size="7.8" text-anchor="middle">140</text>
<text x="366.3" y="465.8" font-size="8.6" text-anchor="middle" textLength="12.8" lengthAdjust="spacingAndGlyphs">Days</text>
<text x="274.4" y="394.3" font-size="8.6" text-anchor="middle" textLength="60" lengthAdjust="spacingAndGlyphs" transform="rotate(-90 274.4 394.3)">Probability of survival</text>
<path d="M299.2 366.8 H424.86" fill="none" stroke="#45a64e" stroke-width="1.0"/>
<line x1="424.7" y1="364.5" x2="424.7" y2="366.9" stroke="#3a7a3a" stroke-width="0.9"/>
<path d="M299.2 366.8 H319.73 V381.58 H379.26 V396.36 H411.03 V440.7" fill="none" stroke="#6ac4e8" stroke-width="1.0"/>
<path d="M299.2 366.8 H315.8 V381.58 H318.83 V396.36 H326.87 V411.14 H336.69 V425.92 H339.18 V440.7" fill="none" stroke="#bf3045" stroke-width="1.0"/>
<path d="M299.2 366.8 H318.83 V381.58 H323.3 V396.36 H333.12 V411.14 H336.24 V440.7" fill="none" stroke="#34486a" stroke-width="1.0"/>
<line x1="441.2" y1="359.4" x2="451" y2="359.4" stroke="#4a6688" stroke-width="1.1"/>
<line x1="446.6" y1="357.4" x2="446.6" y2="359.4" stroke="#4a6688" stroke-width="0.8"/>
<text x="454.2" y="361.5" font-size="8" textLength="22.2" lengthAdjust="spacingAndGlyphs">Vehicle</text>
<line x1="441.2" y1="369.8" x2="451" y2="369.8" stroke="#bf3045" stroke-width="1.1"/>
<line x1="446.6" y1="367.8" x2="446.6" y2="369.8" stroke="#bf3045" stroke-width="0.8"/>
<text x="454.2" y="371.9" font-size="8" textLength="11.5" lengthAdjust="spacingAndGlyphs">BCI</text>
<line x1="441.2" y1="380.2" x2="451" y2="380.2" stroke="#6ac4e8" stroke-width="1.1"/>
<line x1="446.6" y1="378.2" x2="446.6" y2="380.2" stroke="#6ac4e8" stroke-width="0.8"/>
<text x="454.2" y="382.3" font-size="8" textLength="31.5" lengthAdjust="spacingAndGlyphs">Trametinib</text>
<line x1="441.2" y1="389.3" x2="451" y2="389.3" stroke="#45a64e" stroke-width="1.1"/>
<line x1="446.6" y1="387.3" x2="446.6" y2="389.3" stroke="#45a64e" stroke-width="0.8"/>
<text x="454.2" y="391.4" font-size="8" textLength="32.6" lengthAdjust="spacingAndGlyphs">BCI+Tram</text>
<line x1="490.2" y1="356.5" x2="490.2" y2="371.2" stroke="#4a4a4a" stroke-width="1.0"/>
<text x="492.2" y="363.8" font-size="6.8" text-anchor="middle" fill="#333" transform="rotate(90 492.2 363.8)">ns</text>
<line x1="498.4" y1="356.5" x2="498.4" y2="383.7" stroke="#4a4a4a" stroke-width="1.0"/>
<circle cx="502.6" cy="370.05" r="0.95" fill="#2a2a2a"/>
<line x1="507" y1="356.5" x2="507" y2="390.6" stroke="#4a4a4a" stroke-width="1.0"/>
<circle cx="511.2" cy="372.18" r="0.95" fill="#2a2a2a"/>
<circle cx="511.2" cy="374.82" r="0.95" fill="#2a2a2a"/>
<rect x="0.5" y="0.5" width="519" height="474" fill="none" stroke="#333" stroke-width="1"/>
</svg></body></html>
